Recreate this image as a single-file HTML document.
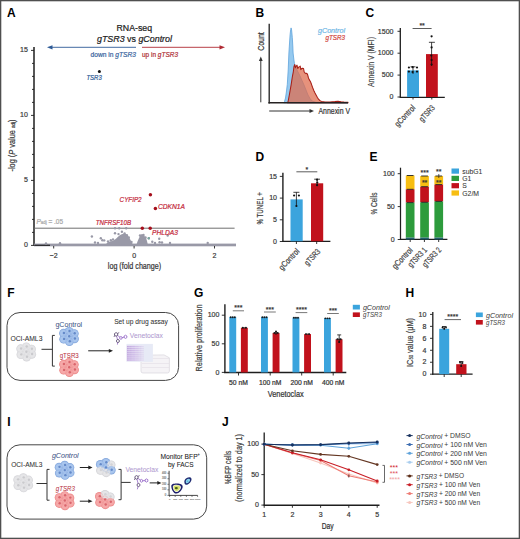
<!DOCTYPE html>
<html><head><meta charset="utf-8"><style>
html,body{margin:0;padding:0;background:#fff;}
svg{display:block;font-family:"Liberation Sans", sans-serif;}
</style></head><body>
<svg width="520" height="539" viewBox="0 0 520 539">
<rect x="0" y="0" width="520" height="539" fill="#fff"/>
<text transform="translate(7.0 12.8)" font-size="12" fill="#000" text-anchor="start" dominant-baseline="central" font-weight="bold">A</text>
<text transform="translate(134.3 28)" font-size="9.2" fill="#222" text-anchor="middle" dominant-baseline="central" textLength="35.5" lengthAdjust="spacingAndGlyphs" stroke="#222" stroke-width="0.22">RNA-seq</text>
<text transform="translate(134.5 39.2)" font-size="9.2" fill="#222" text-anchor="middle" dominant-baseline="central" textLength="75" lengthAdjust="spacingAndGlyphs" stroke="#222" stroke-width="0.22"><tspan font-style="italic">gTSR3</tspan> vs <tspan font-style="italic">gControl</tspan></text>
<path d="M136 47.3 H51" stroke="#2d5a96" stroke-width="0.9"/>
<path d="M47 47.3 L52.5 45.2 L52.5 49.4 Z" fill="#2d5a96"/>
<path d="M142 47.3 H221" stroke="#b02a33" stroke-width="0.9"/>
<path d="M225 47.3 L219.5 45.2 L219.5 49.4 Z" fill="#b02a33"/>
<text transform="translate(90.5 54.3)" font-size="7.2" fill="#3a66a0" text-anchor="start" dominant-baseline="central" textLength="45.5" lengthAdjust="spacingAndGlyphs" stroke="#3a66a0" stroke-width="0.22">down in <tspan font-style="italic">gTSR3</tspan></text>
<text transform="translate(142 54.3)" font-size="7.2" fill="#b03038" text-anchor="start" dominant-baseline="central" textLength="36" lengthAdjust="spacingAndGlyphs" stroke="#b03038" stroke-width="0.22">up in <tspan font-style="italic">gTSR3</tspan></text>
<line x1="34.0" y1="47" x2="34.0" y2="245.5" stroke="#1e1e1e" stroke-width="1.5"/>
<line x1="31.0" y1="245.4" x2="34.0" y2="245.4" stroke="#1e1e1e" stroke-width="0.9"/>
<line x1="32.0" y1="232.4" x2="34.0" y2="232.4" stroke="#1e1e1e" stroke-width="0.9"/>
<line x1="32.0" y1="219.4" x2="34.0" y2="219.4" stroke="#1e1e1e" stroke-width="0.9"/>
<line x1="32.0" y1="206.4" x2="34.0" y2="206.4" stroke="#1e1e1e" stroke-width="0.9"/>
<line x1="32.0" y1="193.4" x2="34.0" y2="193.4" stroke="#1e1e1e" stroke-width="0.9"/>
<line x1="31.0" y1="180.4" x2="34.0" y2="180.4" stroke="#1e1e1e" stroke-width="0.9"/>
<line x1="32.0" y1="167.4" x2="34.0" y2="167.4" stroke="#1e1e1e" stroke-width="0.9"/>
<line x1="32.0" y1="154.4" x2="34.0" y2="154.4" stroke="#1e1e1e" stroke-width="0.9"/>
<line x1="32.0" y1="141.4" x2="34.0" y2="141.4" stroke="#1e1e1e" stroke-width="0.9"/>
<line x1="32.0" y1="128.4" x2="34.0" y2="128.4" stroke="#1e1e1e" stroke-width="0.9"/>
<line x1="31.0" y1="115.4" x2="34.0" y2="115.4" stroke="#1e1e1e" stroke-width="0.9"/>
<line x1="32.0" y1="102.4" x2="34.0" y2="102.4" stroke="#1e1e1e" stroke-width="0.9"/>
<line x1="32.0" y1="89.4" x2="34.0" y2="89.4" stroke="#1e1e1e" stroke-width="0.9"/>
<line x1="32.0" y1="76.4" x2="34.0" y2="76.4" stroke="#1e1e1e" stroke-width="0.9"/>
<line x1="32.0" y1="63.400000000000006" x2="34.0" y2="63.400000000000006" stroke="#1e1e1e" stroke-width="0.9"/>
<line x1="31.0" y1="50.400000000000006" x2="34.0" y2="50.400000000000006" stroke="#1e1e1e" stroke-width="0.9"/>
<text transform="translate(27.8 49.800000000000004) scale(0.88 1)" font-size="8" fill="#3a3a3a" text-anchor="end" dominant-baseline="central" stroke="#3a3a3a" stroke-width="0.22">15</text>
<text transform="translate(27.8 114.80000000000001) scale(0.88 1)" font-size="8" fill="#3a3a3a" text-anchor="end" dominant-baseline="central" stroke="#3a3a3a" stroke-width="0.22">10</text>
<text transform="translate(27.8 179.8) scale(0.88 1)" font-size="8" fill="#3a3a3a" text-anchor="end" dominant-baseline="central" stroke="#3a3a3a" stroke-width="0.22">5</text>
<text transform="translate(27.8 244.8) scale(0.88 1)" font-size="8" fill="#3a3a3a" text-anchor="end" dominant-baseline="central" stroke="#3a3a3a" stroke-width="0.22">0</text>
<text transform="translate(11.5 145.5) rotate(-90)" font-size="9" fill="#3a3a3a" text-anchor="middle" dominant-baseline="central" textLength="52" lengthAdjust="spacingAndGlyphs" stroke="#3a3a3a" stroke-width="0.22">-log (<tspan font-style="italic">P</tspan> value <tspan font-size="5.5" dy="1.5">adj</tspan><tspan dy="-1.5">)</tspan></text>
<line x1="34.2" y1="228.2" x2="234.6" y2="228.2" stroke="#6e6e6e" stroke-width="1"/>
<text transform="translate(36.5 220.6)" font-size="7.5" fill="#a8a8a8" text-anchor="start" dominant-baseline="central" textLength="26.5" lengthAdjust="spacingAndGlyphs" stroke="#a8a8a8" stroke-width="0.22"><tspan font-style="italic">P</tspan><tspan font-size="5" dy="1.8">adj</tspan><tspan dy="-1.8"> = .05</tspan></text>
<rect x="34" y="243.6" width="202" height="2.7" fill="#9999a7"/>
<line x1="34.2" y1="245.3" x2="50" y2="245.3" stroke="#1e1e1e" stroke-width="1.1"/>
<path d="M106,244 L108,242.3 L110,241.5 L112,241 L113.5,240.6 L115,239.6 L116.5,238.2 L118,236.8 L119.5,235.6 L121,234.6 L122.5,233.9 L124.2,233.5 L126,234 L127.3,235.2 L128.5,236.6 L129.6,238.3 L130.8,240.5 L132,243 L133,244.5 Z" fill="#9999a7"/>
<path d="M136.5,244.5 L137.5,241.5 L138.8,238.5 L140,236 L141,234.6 L142,234.1 L143,234.5 L144.2,235.8 L145.3,237.3 L146.2,238.5 L147,241 L147.8,244.5 Z" fill="#9999a7"/>
<circle cx="91.9" cy="236.5" r="1.2" fill="#9999a7"/>
<circle cx="100.8" cy="238.3" r="1.2" fill="#9999a7"/>
<circle cx="102.3" cy="240.2" r="1.2" fill="#9999a7"/>
<circle cx="104.2" cy="240.4" r="1.2" fill="#9999a7"/>
<circle cx="110.8" cy="240.2" r="1.2" fill="#9999a7"/>
<circle cx="115" cy="233.3" r="1.2" fill="#9999a7"/>
<circle cx="118.5" cy="234.1" r="1.2" fill="#9999a7"/>
<circle cx="121.9" cy="231.8" r="1.2" fill="#9999a7"/>
<circle cx="124.6" cy="233.4" r="1.2" fill="#9999a7"/>
<circle cx="126.9" cy="235.2" r="1.2" fill="#9999a7"/>
<circle cx="128.8" cy="237.5" r="1.2" fill="#9999a7"/>
<circle cx="115" cy="228.2" r="1.2" fill="#9999a7"/>
<circle cx="119.2" cy="228.2" r="1.2" fill="#9999a7"/>
<circle cx="126.2" cy="228.2" r="1.2" fill="#9999a7"/>
<circle cx="148.8" cy="238.3" r="1.2" fill="#9999a7"/>
<circle cx="152.3" cy="241.8" r="1.2" fill="#9999a7"/>
<circle cx="159.2" cy="238.7" r="1.2" fill="#9999a7"/>
<circle cx="159.6" cy="242.2" r="1.2" fill="#9999a7"/>
<circle cx="167.7" cy="235.6" r="1.2" fill="#9999a7"/>
<circle cx="207.7" cy="243" r="1.2" fill="#9999a7"/>
<circle cx="95" cy="242.5" r="1.2" fill="#9999a7"/>
<circle cx="98" cy="243" r="1.2" fill="#9999a7"/>
<circle cx="60" cy="243.3" r="1.2" fill="#9999a7"/>
<circle cx="46" cy="243.5" r="1.2" fill="#9999a7"/>
<circle cx="108" cy="241.5" r="1.2" fill="#9999a7"/>
<circle cx="113" cy="239.5" r="1.2" fill="#9999a7"/>
<circle cx="140" cy="235.5" r="1.2" fill="#9999a7"/>
<circle cx="143.5" cy="235" r="1.2" fill="#9999a7"/>
<circle cx="145.5" cy="237.5" r="1.2" fill="#9999a7"/>
<circle cx="131.5" cy="242" r="1.2" fill="#9999a7"/>
<circle cx="155" cy="243" r="1.2" fill="#9999a7"/>
<circle cx="162" cy="242.5" r="1.2" fill="#9999a7"/>
<circle cx="170" cy="243" r="1.2" fill="#9999a7"/>
<circle cx="148.8" cy="238.3" r="1.2" fill="#7aa8a0"/>
<line x1="53.69999999999999" y1="246" x2="53.69999999999999" y2="248.5" stroke="#1e1e1e" stroke-width="0.9"/>
<text transform="translate(53.69999999999999 255.2) scale(0.88 1)" font-size="8" fill="#3a3a3a" text-anchor="middle" dominant-baseline="central" stroke="#3a3a3a" stroke-width="0.22">−2</text>
<line x1="134.1" y1="246" x2="134.1" y2="248.5" stroke="#1e1e1e" stroke-width="0.9"/>
<text transform="translate(134.1 255.2) scale(0.88 1)" font-size="8" fill="#3a3a3a" text-anchor="middle" dominant-baseline="central" stroke="#3a3a3a" stroke-width="0.22">0</text>
<line x1="214.5" y1="246" x2="214.5" y2="248.5" stroke="#1e1e1e" stroke-width="0.9"/>
<text transform="translate(214.5 255.2) scale(0.88 1)" font-size="8" fill="#3a3a3a" text-anchor="middle" dominant-baseline="central" stroke="#3a3a3a" stroke-width="0.22">2</text>
<text transform="translate(134.5 266.4)" font-size="9.2" fill="#333" text-anchor="middle" dominant-baseline="central" textLength="53.4" lengthAdjust="spacingAndGlyphs" stroke="#333" stroke-width="0.22">log (fold change)</text>
<circle cx="99.4" cy="71.6" r="1.5" fill="#111"/>
<text transform="translate(94.1 77.6)" font-size="7.2" fill="#2d5a96" text-anchor="middle" dominant-baseline="central" font-style="italic" textLength="15.4" lengthAdjust="spacingAndGlyphs" stroke="#2d5a96" stroke-width="0.22">TSR3</text>
<circle cx="150.4" cy="194.8" r="1.75" fill="#a50f1c"/>
<circle cx="155.4" cy="208.6" r="1.75" fill="#a50f1c"/>
<circle cx="142.3" cy="228.2" r="1.75" fill="#a50f1c"/>
<circle cx="150.2" cy="228.2" r="1.75" fill="#a50f1c"/>
<text transform="translate(119.6 199.6)" font-size="7.4" fill="#c4283a" text-anchor="start" dominant-baseline="central" font-style="italic" textLength="22" lengthAdjust="spacingAndGlyphs" stroke="#c4283a" stroke-width="0.22">CYFIP2</text>
<text transform="translate(158 206.5)" font-size="7.4" fill="#c4283a" text-anchor="start" dominant-baseline="central" font-style="italic" textLength="27" lengthAdjust="spacingAndGlyphs" stroke="#c4283a" stroke-width="0.22">CDKN1A</text>
<text transform="translate(95.8 222.5)" font-size="7.4" fill="#c4283a" text-anchor="start" dominant-baseline="central" font-style="italic" textLength="35.2" lengthAdjust="spacingAndGlyphs" stroke="#c4283a" stroke-width="0.22">TNFRSF10B</text>
<text transform="translate(152 232)" font-size="7.4" fill="#c4283a" text-anchor="start" dominant-baseline="central" font-style="italic" textLength="26" lengthAdjust="spacingAndGlyphs" stroke="#c4283a" stroke-width="0.22">PHLDA3</text>
<text transform="translate(255.5 12.7)" font-size="12" fill="#000" text-anchor="start" dominant-baseline="central" font-weight="bold">B</text>
<line x1="269.2" y1="23.8" x2="269.2" y2="103.4" stroke="#1e1e1e" stroke-width="1.3"/>
<path d="M283.5,102.8 L284.5,101.5 L285.5,98 L286.5,91 L287.3,84.3 L288.2,70 L288.9,53 L289.6,42 L290.1,34.5 L290.7,29.5 L291.1,27.9 L291.6,30 L292.3,37.6 L292.8,46 L293.1,53 L293.8,59 L294.4,63.3 L296,68 L298,72 L300,76 L302,80.5 L304,85 L306,90 L308,95 L310,98.5 L312,101 L316,102.3 L348,102.8 Z" fill="#95c9ef" stroke="#5ea3dc" stroke-width="0.8"/>
<path d="M287.5,102.8 L288.1,101.5 L289.5,94 L291.2,84.3 L292.3,77 L293.3,71.8 L294,66.5 L294.7,64.6 L295.5,67.8 L296.3,66 L297,65.2 L297.8,68.6 L298.6,67.2 L299.5,66.6 L300.2,66.1 L300.8,69.6 L301.6,68.6 L302.5,68.2 L303.5,68.4 L304.2,72 L305,73 L306,73.6 L306.8,73.3 L307.6,74.6 L308.5,78 L309.2,79.6 L310.4,81.5 L311.5,84.3 L312.6,87.5 L313.8,90.5 L315,93 L316.2,95.2 L317.4,97.5 L318.5,99.1 L320,100.6 L321.5,101.4 L325,101.9 L330,102 L335,101.6 L338,101.2 L341,101.7 L344,102 L348,102.3 L348,102.8 Z" fill="#de6c4e" fill-opacity="0.74" stroke="#a82018" stroke-width="1.05" stroke-linejoin="round"/>
<line x1="268.4" y1="102.8" x2="348" y2="102.8" stroke="#262222" stroke-width="1.5"/>
<line x1="260.8" y1="102.3" x2="260.8" y2="60" stroke="#333" stroke-width="1"/>
<path d="M260.8 56.5 L258.9 61 L262.7 61 Z" fill="#333"/>
<line x1="269.2" y1="111" x2="310" y2="111" stroke="#333" stroke-width="1"/>
<path d="M314 111 L309.5 109.1 L309.5 112.9 Z" fill="#333"/>
<text transform="translate(260.8 41.5) rotate(-90)" font-size="9" fill="#333" text-anchor="middle" dominant-baseline="central" textLength="18.5" lengthAdjust="spacingAndGlyphs" stroke="#333" stroke-width="0.22">Count</text>
<text transform="translate(318.5 111)" font-size="9" fill="#333" text-anchor="start" dominant-baseline="central" textLength="31.5" lengthAdjust="spacingAndGlyphs" stroke="#333" stroke-width="0.22">Annexin V</text>
<text transform="translate(345 30.2)" font-size="7.5" fill="#72b8e6" text-anchor="end" dominant-baseline="central" font-style="italic" textLength="27" lengthAdjust="spacingAndGlyphs" stroke="#72b8e6" stroke-width="0.22">gControl</text>
<text transform="translate(345 37.6)" font-size="7.5" fill="#d0443a" text-anchor="end" dominant-baseline="central" font-style="italic" textLength="19.6" lengthAdjust="spacingAndGlyphs" stroke="#d0443a" stroke-width="0.22">gTSR3</text>
<text transform="translate(365.5 12.6)" font-size="12" fill="#000" text-anchor="start" dominant-baseline="central" font-weight="bold">C</text>
<line x1="400.3" y1="28" x2="400.3" y2="97.6" stroke="#1e1e1e" stroke-width="1.3"/>
<line x1="399.7" y1="97.4" x2="444.8" y2="97.4" stroke="#1e1e1e" stroke-width="1.3"/>
<line x1="397.5" y1="97.0" x2="400.3" y2="97.0" stroke="#1e1e1e" stroke-width="0.9"/>
<text transform="translate(393.5 96.6) scale(0.88 1)" font-size="8" fill="#3a3a3a" text-anchor="end" dominant-baseline="central" stroke="#3a3a3a" stroke-width="0.22">0</text>
<line x1="397.5" y1="75.1" x2="400.3" y2="75.1" stroke="#1e1e1e" stroke-width="0.9"/>
<text transform="translate(393.5 74.69999999999999) scale(0.88 1)" font-size="8" fill="#3a3a3a" text-anchor="end" dominant-baseline="central" stroke="#3a3a3a" stroke-width="0.22">500</text>
<line x1="397.5" y1="53.2" x2="400.3" y2="53.2" stroke="#1e1e1e" stroke-width="0.9"/>
<text transform="translate(393.5 52.800000000000004) scale(0.88 1)" font-size="8" fill="#3a3a3a" text-anchor="end" dominant-baseline="central" stroke="#3a3a3a" stroke-width="0.22">1000</text>
<line x1="397.5" y1="31.299999999999997" x2="400.3" y2="31.299999999999997" stroke="#1e1e1e" stroke-width="0.9"/>
<text transform="translate(393.5 30.9) scale(0.88 1)" font-size="8" fill="#3a3a3a" text-anchor="end" dominant-baseline="central" stroke="#3a3a3a" stroke-width="0.22">1500</text>
<rect x="407.1" y="70.4" width="11.9" height="26.6" fill="#3ba4dd"/>
<rect x="426" y="54.1" width="11.8" height="42.9" fill="#c1121c"/>
<line x1="413" y1="97" x2="413" y2="99.5" stroke="#1e1e1e" stroke-width="0.9"/>
<line x1="431.8" y1="97" x2="431.8" y2="99.5" stroke="#1e1e1e" stroke-width="0.9"/>
<line x1="413" y1="66.8" x2="413" y2="74" stroke="#111" stroke-width="0.8"/>
<line x1="410.5" y1="66.8" x2="415.5" y2="66.8" stroke="#111" stroke-width="0.8"/>
<circle cx="408.9" cy="67.5" r="1.1" fill="#111"/>
<circle cx="412.6" cy="67.2" r="1.1" fill="#111"/>
<circle cx="417" cy="67.5" r="1.1" fill="#111"/>
<circle cx="408.9" cy="71.6" r="1.1" fill="#111"/>
<circle cx="412.6" cy="72" r="1.1" fill="#111"/>
<circle cx="417" cy="71.6" r="1.1" fill="#111"/>
<line x1="431.6" y1="42.3" x2="431.6" y2="66" stroke="#111" stroke-width="0.8"/>
<line x1="428.9" y1="42.3" x2="434.9" y2="42.3" stroke="#111" stroke-width="0.8"/>
<circle cx="431.6" cy="36.3" r="1.1" fill="#111"/>
<circle cx="431.6" cy="47.4" r="1.1" fill="#111"/>
<circle cx="431.6" cy="60" r="1.1" fill="#111"/>
<circle cx="431.6" cy="64.5" r="1.1" fill="#111"/>
<circle cx="431.3" cy="55.5" r="1.1" fill="#111"/>
<line x1="412.6" y1="28.5" x2="431.6" y2="28.5" stroke="#333" stroke-width="0.8"/>
<text transform="translate(422.1 25.5)" font-size="7" fill="#333" text-anchor="middle" dominant-baseline="central" stroke="#333" stroke-width="0.22">**</text>
<text transform="translate(370.6 62) rotate(-90)" font-size="9" fill="#444" text-anchor="middle" dominant-baseline="central" textLength="50" lengthAdjust="spacingAndGlyphs" stroke="#444" stroke-width="0.22">Annexin V (MFI)</text>
<text transform="translate(413.6 106.2) rotate(-47)" font-size="8.3" fill="#444" text-anchor="end" dominant-baseline="central" textLength="26" lengthAdjust="spacingAndGlyphs" stroke="#444" stroke-width="0.22">gControl</text>
<text transform="translate(433.2 106.2) rotate(-47)" font-size="8.3" fill="#444" text-anchor="end" dominant-baseline="central" textLength="19" lengthAdjust="spacingAndGlyphs" stroke="#444" stroke-width="0.22">gTSR3</text>
<text transform="translate(255.5 156.8)" font-size="12" fill="#000" text-anchor="start" dominant-baseline="central" font-weight="bold">D</text>
<line x1="282.9" y1="172.8" x2="282.9" y2="242" stroke="#1e1e1e" stroke-width="1.4"/>
<line x1="282.2" y1="241.35" x2="330.4" y2="241.35" stroke="#1e1e1e" stroke-width="1.2"/>
<line x1="279.8" y1="241.5" x2="282.9" y2="241.5" stroke="#1e1e1e" stroke-width="0.9"/>
<text transform="translate(277 241.1) scale(0.88 1)" font-size="8" fill="#3a3a3a" text-anchor="end" dominant-baseline="central" stroke="#3a3a3a" stroke-width="0.22">0</text>
<line x1="279.8" y1="219.8" x2="282.9" y2="219.8" stroke="#1e1e1e" stroke-width="0.9"/>
<text transform="translate(277 219.4) scale(0.88 1)" font-size="8" fill="#3a3a3a" text-anchor="end" dominant-baseline="central" stroke="#3a3a3a" stroke-width="0.22">5</text>
<line x1="279.8" y1="198.1" x2="282.9" y2="198.1" stroke="#1e1e1e" stroke-width="0.9"/>
<text transform="translate(277 197.7) scale(0.88 1)" font-size="8" fill="#3a3a3a" text-anchor="end" dominant-baseline="central" stroke="#3a3a3a" stroke-width="0.22">10</text>
<line x1="279.8" y1="176.4" x2="282.9" y2="176.4" stroke="#1e1e1e" stroke-width="0.9"/>
<text transform="translate(277 176.0) scale(0.88 1)" font-size="8" fill="#3a3a3a" text-anchor="end" dominant-baseline="central" stroke="#3a3a3a" stroke-width="0.22">15</text>
<rect x="290.5" y="199.4" width="12.2" height="41.9" fill="#3ba4dd"/>
<rect x="311" y="183.3" width="12.2" height="58" fill="#c1121c"/>
<line x1="296.4" y1="241.3" x2="296.4" y2="244" stroke="#1e1e1e" stroke-width="0.9"/>
<line x1="316.7" y1="241.3" x2="316.7" y2="244" stroke="#1e1e1e" stroke-width="0.9"/>
<line x1="296.4" y1="192.3" x2="296.4" y2="206.2" stroke="#111" stroke-width="0.8"/>
<line x1="293.4" y1="192.3" x2="299.4" y2="192.3" stroke="#111" stroke-width="0.8"/>
<circle cx="294.1" cy="195.5" r="1.1" fill="#111"/>
<circle cx="298.9" cy="195.5" r="1.1" fill="#111"/>
<circle cx="296.4" cy="206" r="1.1" fill="#111"/>
<line x1="317.1" y1="179.2" x2="317.1" y2="186" stroke="#111" stroke-width="0.8"/>
<line x1="314.2" y1="179.2" x2="320" y2="179.2" stroke="#111" stroke-width="0.8"/>
<circle cx="317.1" cy="179.7" r="1.1" fill="#111"/>
<circle cx="317.1" cy="185.2" r="1.1" fill="#111"/>
<circle cx="317.3" cy="182.5" r="1.1" fill="#111"/>
<line x1="296.4" y1="171.8" x2="317.3" y2="171.8" stroke="#333" stroke-width="0.8"/>
<text transform="translate(306.8 169)" font-size="7" fill="#333" text-anchor="middle" dominant-baseline="central" stroke="#333" stroke-width="0.22">*</text>
<text transform="translate(259 208.3) rotate(-90)" font-size="9.5" fill="#444" text-anchor="middle" dominant-baseline="central" textLength="32.5" lengthAdjust="spacingAndGlyphs" stroke="#444" stroke-width="0.22">% TUNEL +</text>
<text transform="translate(297.8 249.6) rotate(-47)" font-size="8.3" fill="#444" text-anchor="end" dominant-baseline="central" textLength="26" lengthAdjust="spacingAndGlyphs" stroke="#444" stroke-width="0.22">gControl</text>
<text transform="translate(318.6 250) rotate(-47)" font-size="8.3" fill="#444" text-anchor="end" dominant-baseline="central" textLength="19" lengthAdjust="spacingAndGlyphs" stroke="#444" stroke-width="0.22">gTSR3</text>
<text transform="translate(369.5 157.3)" font-size="12" fill="#000" text-anchor="start" dominant-baseline="central" font-weight="bold">E</text>
<line x1="400.5" y1="167.7" x2="400.5" y2="240" stroke="#1e1e1e" stroke-width="1.25"/>
<line x1="399.9" y1="239.4" x2="447.4" y2="239.4" stroke="#1e1e1e" stroke-width="1.2"/>
<line x1="397.7" y1="239.5" x2="400.5" y2="239.5" stroke="#1e1e1e" stroke-width="0.9"/>
<text transform="translate(394.7 239.1) scale(0.88 1)" font-size="8" fill="#3a3a3a" text-anchor="end" dominant-baseline="central" stroke="#3a3a3a" stroke-width="0.22">0</text>
<line x1="397.7" y1="206.6" x2="400.5" y2="206.6" stroke="#1e1e1e" stroke-width="0.9"/>
<text transform="translate(394.7 206.2) scale(0.88 1)" font-size="8" fill="#3a3a3a" text-anchor="end" dominant-baseline="central" stroke="#3a3a3a" stroke-width="0.22">50</text>
<line x1="397.7" y1="173.7" x2="400.5" y2="173.7" stroke="#1e1e1e" stroke-width="0.9"/>
<text transform="translate(394.7 173.29999999999998) scale(0.88 1)" font-size="8" fill="#3a3a3a" text-anchor="end" dominant-baseline="central" stroke="#3a3a3a" stroke-width="0.22">100</text>
<rect x="405.8" y="175.5" width="8.7" height="13.800000000000011" fill="#f7be12"/>
<rect x="405.8" y="189.3" width="8.7" height="13.299999999999983" fill="#c1121c"/>
<rect x="405.8" y="202.6" width="8.7" height="35.0" fill="#2d9b3c"/>
<rect x="405.8" y="237.6" width="8.7" height="1.9" fill="#1f5f6a"/>
<line x1="406.8" y1="175.5" x2="413.5" y2="175.5" stroke="#222" stroke-width="0.9"/>
<line x1="406.8" y1="189.3" x2="413.5" y2="189.3" stroke="#222" stroke-width="0.9"/>
<line x1="406.8" y1="202.6" x2="413.5" y2="202.6" stroke="#222" stroke-width="0.9"/>
<rect x="420.2" y="176" width="8.7" height="10.699999999999989" fill="#f7be12"/>
<rect x="420.2" y="186.7" width="8.7" height="15.600000000000023" fill="#c1121c"/>
<rect x="420.2" y="202.3" width="8.7" height="35.29999999999998" fill="#2d9b3c"/>
<rect x="420.2" y="237.6" width="8.7" height="1.9" fill="#1f5f6a"/>
<line x1="421.2" y1="176" x2="427.9" y2="176" stroke="#222" stroke-width="0.9"/>
<line x1="421.2" y1="186.7" x2="427.9" y2="186.7" stroke="#222" stroke-width="0.9"/>
<line x1="421.2" y1="202.3" x2="427.9" y2="202.3" stroke="#222" stroke-width="0.9"/>
<rect x="434.4" y="176" width="8.7" height="8.599999999999994" fill="#f7be12"/>
<rect x="434.4" y="184.6" width="8.7" height="16.80000000000001" fill="#c1121c"/>
<rect x="434.4" y="201.4" width="8.7" height="36.19999999999999" fill="#2d9b3c"/>
<rect x="434.4" y="237.6" width="8.7" height="1.9" fill="#1f5f6a"/>
<line x1="435.4" y1="176" x2="442.09999999999997" y2="176" stroke="#222" stroke-width="0.9"/>
<line x1="435.4" y1="184.6" x2="442.09999999999997" y2="184.6" stroke="#222" stroke-width="0.9"/>
<line x1="435.4" y1="201.4" x2="442.09999999999997" y2="201.4" stroke="#222" stroke-width="0.9"/>
<line x1="410.2" y1="239.5" x2="410.2" y2="242" stroke="#1e1e1e" stroke-width="0.9"/>
<line x1="424.4" y1="239.5" x2="424.4" y2="242" stroke="#1e1e1e" stroke-width="0.9"/>
<line x1="438.7" y1="239.5" x2="438.7" y2="242" stroke="#1e1e1e" stroke-width="0.9"/>
<text transform="translate(424.6 172.3)" font-size="7" fill="#333" text-anchor="middle" dominant-baseline="central" stroke="#333" stroke-width="0.22">***</text>
<text transform="translate(438.8 171.3)" font-size="7" fill="#333" text-anchor="middle" dominant-baseline="central" stroke="#333" stroke-width="0.22">**</text>
<text transform="translate(424.6 182)" font-size="7" fill="#333" text-anchor="middle" dominant-baseline="central" stroke="#333" stroke-width="0.22">**</text>
<text transform="translate(438.8 182)" font-size="7" fill="#333" text-anchor="middle" dominant-baseline="central" stroke="#333" stroke-width="0.22">**</text>
<line x1="438.8" y1="174" x2="438.8" y2="178" stroke="#222" stroke-width="0.7"/>
<text transform="translate(374.2 203.5) rotate(-90)" font-size="9" fill="#444" text-anchor="middle" dominant-baseline="central" textLength="22" lengthAdjust="spacingAndGlyphs" stroke="#444" stroke-width="0.22">% Cells</text>
<text transform="translate(411 248.5) rotate(-47)" font-size="8.3" fill="#444" text-anchor="end" dominant-baseline="central" textLength="26" lengthAdjust="spacingAndGlyphs" stroke="#444" stroke-width="0.22">gControl</text>
<text transform="translate(425.2 248.5) rotate(-47)" font-size="8.3" fill="#444" text-anchor="end" dominant-baseline="central" textLength="23.5" lengthAdjust="spacingAndGlyphs" stroke="#444" stroke-width="0.22">gTSR3 1</text>
<text transform="translate(439.5 248.5) rotate(-47)" font-size="8.3" fill="#444" text-anchor="end" dominant-baseline="central" textLength="23.5" lengthAdjust="spacingAndGlyphs" stroke="#444" stroke-width="0.22">gTSR3 2</text>
<rect x="451.5" y="168.5" width="7.5" height="5.2" fill="#3aa4dc"/>
<text transform="translate(462.3 171.1) scale(0.9 1)" font-size="7.6" fill="#333" text-anchor="start" dominant-baseline="central" stroke="#333" stroke-width="0.06">subG1</text>
<rect x="451.5" y="175.8" width="7.5" height="5.2" fill="#2d9b3c"/>
<text transform="translate(462.3 178.4) scale(0.9 1)" font-size="7.6" fill="#333" text-anchor="start" dominant-baseline="central" stroke="#333" stroke-width="0.06">G1</text>
<rect x="451.5" y="183.1" width="7.5" height="5.2" fill="#c1121c"/>
<text transform="translate(462.3 185.7) scale(0.9 1)" font-size="7.6" fill="#333" text-anchor="start" dominant-baseline="central" stroke="#333" stroke-width="0.06">S</text>
<rect x="451.5" y="190.4" width="7.5" height="5.2" fill="#f7be12"/>
<text transform="translate(462.3 193.0) scale(0.9 1)" font-size="7.6" fill="#333" text-anchor="start" dominant-baseline="central" stroke="#333" stroke-width="0.06">G2/M</text>
<text transform="translate(7.3 292.7)" font-size="12" fill="#000" text-anchor="start" dominant-baseline="central" font-weight="bold">F</text>
<rect x="7" y="312.5" width="171.6" height="67.9" rx="13" ry="13" fill="none" stroke="#464646" stroke-width="1"/>
<text transform="translate(26.4 338.4)" font-size="7.5" fill="#333" text-anchor="middle" dominant-baseline="central" textLength="32" lengthAdjust="spacingAndGlyphs" stroke="#333" stroke-width="0.06">OCI-AML3</text>
<circle cx="26.00" cy="352.00" r="4.40" fill="#d6d6da"/>
<circle cx="20.70" cy="348.76" r="4.40" fill="#d6d6da"/>
<circle cx="26.31" cy="346.78" r="4.40" fill="#d6d6da"/>
<circle cx="31.51" cy="349.12" r="4.40" fill="#d6d6da"/>
<circle cx="31.71" cy="354.34" r="4.40" fill="#d6d6da"/>
<circle cx="26.61" cy="357.04" r="4.40" fill="#d6d6da"/>
<circle cx="20.90" cy="354.70" r="4.40" fill="#d6d6da"/>
<circle cx="26.00" cy="352.00" r="3.75" fill="#e6e6e8"/>
<circle cx="20.70" cy="348.76" r="3.75" fill="#e6e6e8"/>
<circle cx="26.31" cy="346.78" r="3.75" fill="#e6e6e8"/>
<circle cx="31.51" cy="349.12" r="3.75" fill="#e6e6e8"/>
<circle cx="31.71" cy="354.34" r="3.75" fill="#e6e6e8"/>
<circle cx="26.61" cy="357.04" r="3.75" fill="#e6e6e8"/>
<circle cx="20.90" cy="354.70" r="3.75" fill="#e6e6e8"/>
<circle cx="26.00" cy="352.00" r="3.75" fill="none" stroke="#d6d6da" stroke-width="0.5" stroke-opacity="0.6"/>
<circle cx="20.70" cy="348.76" r="3.75" fill="none" stroke="#d6d6da" stroke-width="0.5" stroke-opacity="0.6"/>
<circle cx="26.31" cy="346.78" r="3.75" fill="none" stroke="#d6d6da" stroke-width="0.5" stroke-opacity="0.6"/>
<circle cx="31.51" cy="349.12" r="3.75" fill="none" stroke="#d6d6da" stroke-width="0.5" stroke-opacity="0.6"/>
<circle cx="31.71" cy="354.34" r="3.75" fill="none" stroke="#d6d6da" stroke-width="0.5" stroke-opacity="0.6"/>
<circle cx="26.61" cy="357.04" r="3.75" fill="none" stroke="#d6d6da" stroke-width="0.5" stroke-opacity="0.6"/>
<circle cx="20.90" cy="354.70" r="3.75" fill="none" stroke="#d6d6da" stroke-width="0.5" stroke-opacity="0.6"/>
<circle cx="26.40" cy="351.70" r="1.20" fill="#c6c6ca" fill-opacity="0.9"/>
<circle cx="21.10" cy="348.46" r="1.20" fill="#c6c6ca" fill-opacity="0.9"/>
<circle cx="26.71" cy="346.48" r="1.20" fill="#c6c6ca" fill-opacity="0.9"/>
<circle cx="31.91" cy="348.82" r="1.20" fill="#c6c6ca" fill-opacity="0.9"/>
<circle cx="32.11" cy="354.04" r="1.20" fill="#c6c6ca" fill-opacity="0.9"/>
<circle cx="27.01" cy="356.74" r="1.20" fill="#c6c6ca" fill-opacity="0.9"/>
<circle cx="21.30" cy="354.40" r="1.20" fill="#c6c6ca" fill-opacity="0.9"/>
<line x1="41.5" y1="349.3" x2="52.4" y2="349.3" stroke="#333" stroke-width="1"/>
<path d="M54.8 335.4 H52.4 V366.1 H54.8" fill="none" stroke="#333" stroke-width="1"/>
<text transform="translate(68.8 324.2)" font-size="7.5" fill="#46598a" text-anchor="middle" dominant-baseline="central" textLength="26.8" lengthAdjust="spacingAndGlyphs" stroke="#46598a" stroke-width="0.06">gControl</text>
<circle cx="68.80" cy="336.50" r="4.40" fill="#85a8dc"/>
<circle cx="63.50" cy="333.26" r="4.40" fill="#85a8dc"/>
<circle cx="69.11" cy="331.28" r="4.40" fill="#85a8dc"/>
<circle cx="74.31" cy="333.62" r="4.40" fill="#85a8dc"/>
<circle cx="74.51" cy="338.84" r="4.40" fill="#85a8dc"/>
<circle cx="69.41" cy="341.54" r="4.40" fill="#85a8dc"/>
<circle cx="63.70" cy="339.20" r="4.40" fill="#85a8dc"/>
<circle cx="68.80" cy="336.50" r="3.75" fill="#a9c6ee"/>
<circle cx="63.50" cy="333.26" r="3.75" fill="#a9c6ee"/>
<circle cx="69.11" cy="331.28" r="3.75" fill="#a9c6ee"/>
<circle cx="74.31" cy="333.62" r="3.75" fill="#a9c6ee"/>
<circle cx="74.51" cy="338.84" r="3.75" fill="#a9c6ee"/>
<circle cx="69.41" cy="341.54" r="3.75" fill="#a9c6ee"/>
<circle cx="63.70" cy="339.20" r="3.75" fill="#a9c6ee"/>
<circle cx="68.80" cy="336.50" r="3.75" fill="none" stroke="#85a8dc" stroke-width="0.5" stroke-opacity="0.6"/>
<circle cx="63.50" cy="333.26" r="3.75" fill="none" stroke="#85a8dc" stroke-width="0.5" stroke-opacity="0.6"/>
<circle cx="69.11" cy="331.28" r="3.75" fill="none" stroke="#85a8dc" stroke-width="0.5" stroke-opacity="0.6"/>
<circle cx="74.31" cy="333.62" r="3.75" fill="none" stroke="#85a8dc" stroke-width="0.5" stroke-opacity="0.6"/>
<circle cx="74.51" cy="338.84" r="3.75" fill="none" stroke="#85a8dc" stroke-width="0.5" stroke-opacity="0.6"/>
<circle cx="69.41" cy="341.54" r="3.75" fill="none" stroke="#85a8dc" stroke-width="0.5" stroke-opacity="0.6"/>
<circle cx="63.70" cy="339.20" r="3.75" fill="none" stroke="#85a8dc" stroke-width="0.5" stroke-opacity="0.6"/>
<circle cx="69.20" cy="336.20" r="1.20" fill="#5d83c4" fill-opacity="0.9"/>
<circle cx="63.90" cy="332.96" r="1.20" fill="#5d83c4" fill-opacity="0.9"/>
<circle cx="69.51" cy="330.98" r="1.20" fill="#5d83c4" fill-opacity="0.9"/>
<circle cx="74.71" cy="333.32" r="1.20" fill="#5d83c4" fill-opacity="0.9"/>
<circle cx="74.91" cy="338.54" r="1.20" fill="#5d83c4" fill-opacity="0.9"/>
<circle cx="69.81" cy="341.24" r="1.20" fill="#5d83c4" fill-opacity="0.9"/>
<circle cx="64.10" cy="338.90" r="1.20" fill="#5d83c4" fill-opacity="0.9"/>
<text transform="translate(69.2 355)" font-size="7.5" fill="#b8333f" text-anchor="middle" dominant-baseline="central" textLength="19" lengthAdjust="spacingAndGlyphs" stroke="#b8333f" stroke-width="0.06">gTSR3</text>
<circle cx="68.80" cy="367.50" r="4.40" fill="#ec8a8a"/>
<circle cx="63.50" cy="364.26" r="4.40" fill="#ec8a8a"/>
<circle cx="69.11" cy="362.28" r="4.40" fill="#ec8a8a"/>
<circle cx="74.31" cy="364.62" r="4.40" fill="#ec8a8a"/>
<circle cx="74.51" cy="369.84" r="4.40" fill="#ec8a8a"/>
<circle cx="69.41" cy="372.54" r="4.40" fill="#ec8a8a"/>
<circle cx="63.70" cy="370.20" r="4.40" fill="#ec8a8a"/>
<circle cx="68.80" cy="367.50" r="3.75" fill="#f6a9a9"/>
<circle cx="63.50" cy="364.26" r="3.75" fill="#f6a9a9"/>
<circle cx="69.11" cy="362.28" r="3.75" fill="#f6a9a9"/>
<circle cx="74.31" cy="364.62" r="3.75" fill="#f6a9a9"/>
<circle cx="74.51" cy="369.84" r="3.75" fill="#f6a9a9"/>
<circle cx="69.41" cy="372.54" r="3.75" fill="#f6a9a9"/>
<circle cx="63.70" cy="370.20" r="3.75" fill="#f6a9a9"/>
<circle cx="68.80" cy="367.50" r="3.75" fill="none" stroke="#ec8a8a" stroke-width="0.5" stroke-opacity="0.6"/>
<circle cx="63.50" cy="364.26" r="3.75" fill="none" stroke="#ec8a8a" stroke-width="0.5" stroke-opacity="0.6"/>
<circle cx="69.11" cy="362.28" r="3.75" fill="none" stroke="#ec8a8a" stroke-width="0.5" stroke-opacity="0.6"/>
<circle cx="74.31" cy="364.62" r="3.75" fill="none" stroke="#ec8a8a" stroke-width="0.5" stroke-opacity="0.6"/>
<circle cx="74.51" cy="369.84" r="3.75" fill="none" stroke="#ec8a8a" stroke-width="0.5" stroke-opacity="0.6"/>
<circle cx="69.41" cy="372.54" r="3.75" fill="none" stroke="#ec8a8a" stroke-width="0.5" stroke-opacity="0.6"/>
<circle cx="63.70" cy="370.20" r="3.75" fill="none" stroke="#ec8a8a" stroke-width="0.5" stroke-opacity="0.6"/>
<circle cx="69.20" cy="367.20" r="1.20" fill="#d65e66" fill-opacity="0.9"/>
<circle cx="63.90" cy="363.96" r="1.20" fill="#d65e66" fill-opacity="0.9"/>
<circle cx="69.51" cy="361.98" r="1.20" fill="#d65e66" fill-opacity="0.9"/>
<circle cx="74.71" cy="364.32" r="1.20" fill="#d65e66" fill-opacity="0.9"/>
<circle cx="74.91" cy="369.54" r="1.20" fill="#d65e66" fill-opacity="0.9"/>
<circle cx="69.81" cy="372.24" r="1.20" fill="#d65e66" fill-opacity="0.9"/>
<circle cx="64.10" cy="369.90" r="1.20" fill="#d65e66" fill-opacity="0.9"/>
<line x1="88.2" y1="350.8" x2="110" y2="350.8" stroke="#222" stroke-width="1"/>
<path d="M113 350.8 L108.8 348.9 L108.8 352.7 Z" fill="#222"/>
<text transform="translate(141 321.6)" font-size="7.5" fill="#333" text-anchor="middle" dominant-baseline="central" textLength="53.7" lengthAdjust="spacingAndGlyphs" stroke="#333" stroke-width="0.06">Set up drug assay</text>
<text transform="translate(129.8 335.5)" font-size="7.5" fill="#b09ad0" text-anchor="start" dominant-baseline="central" textLength="33" lengthAdjust="spacingAndGlyphs" stroke="#b09ad0" stroke-width="0.06">Venetoclax</text>
<path d="M116.10,334.40 L120.90,337.90 L125.50,336.80 M116.10,334.40 L117.90,341.00 L117.40,344.60" stroke="#9366c6" stroke-width="0.8" fill="none"/>
<path d="M117.66,335.30 L116.10,336.20 L114.54,335.30 L114.54,333.50 L116.10,332.60 L117.66,333.50 Z" fill="#fff" stroke="#5f4f74" stroke-width="0.9"/>
<path d="M122.11,338.60 L120.90,339.30 L119.69,338.60 L119.69,337.20 L120.90,336.50 L122.11,337.20 Z" fill="#fff" stroke="#9366c6" stroke-width="0.85"/>
<path d="M126.89,337.60 L125.50,338.40 L124.11,337.60 L124.11,336.00 L125.50,335.20 L126.89,336.00 Z" fill="#fff" stroke="#9366c6" stroke-width="0.85"/>
<path d="M119.29,341.80 L117.90,342.60 L116.51,341.80 L116.51,340.20 L117.90,339.40 L119.29,340.20 Z" fill="#fff" stroke="#5f4f74" stroke-width="0.9"/>
<path d="M117.60,333.40 l1.6 -0.8 M114.60,335.40 l-0.6 1.6" stroke="#5f4f74" stroke-width="0.8" fill="none"/>
<path d="M141 358.2 L145 355.2 L164 354.9 L169.4 357.8 L169.4 371 Q169.4 373 167.4 373 L143 373 Q141 373 141 371 Z" fill="#f5f3f6" stroke="#d9d5dd" stroke-width="0.7"/>
<path d="M141.5 358.5 H169 M142 363.5 H169 M142 367.5 H169" stroke="#e2dee6" stroke-width="0.6"/>
<defs><linearGradient id="pg" x1="0" y1="0" x2="1" y2="0"><stop offset="0" stop-color="#bea2de"/><stop offset="0.45" stop-color="#cbb6e6"/><stop offset="1" stop-color="#dedaf0"/></linearGradient></defs>
<rect x="126.5" y="343.9" width="26.4" height="18" fill="#e7eaf6"/>
<rect x="126.9" y="345.6" width="17" height="15.4" fill="url(#pg)"/>
<line x1="126.9" y1="345.60" x2="143.9" y2="345.60" stroke="#f4f2fa" stroke-opacity="0.9" stroke-width="0.55"/>
<line x1="126.9" y1="347.53" x2="143.9" y2="347.53" stroke="#f4f2fa" stroke-opacity="0.9" stroke-width="0.55"/>
<line x1="126.9" y1="349.45" x2="143.9" y2="349.45" stroke="#f4f2fa" stroke-opacity="0.9" stroke-width="0.55"/>
<line x1="126.9" y1="351.38" x2="143.9" y2="351.38" stroke="#f4f2fa" stroke-opacity="0.9" stroke-width="0.55"/>
<line x1="126.9" y1="353.30" x2="143.9" y2="353.30" stroke="#f4f2fa" stroke-opacity="0.9" stroke-width="0.55"/>
<line x1="126.9" y1="355.23" x2="143.9" y2="355.23" stroke="#f4f2fa" stroke-opacity="0.9" stroke-width="0.55"/>
<line x1="126.9" y1="357.15" x2="143.9" y2="357.15" stroke="#f4f2fa" stroke-opacity="0.9" stroke-width="0.55"/>
<line x1="126.9" y1="359.08" x2="143.9" y2="359.08" stroke="#f4f2fa" stroke-opacity="0.9" stroke-width="0.55"/>
<line x1="126.9" y1="361.00" x2="143.9" y2="361.00" stroke="#f4f2fa" stroke-opacity="0.9" stroke-width="0.55"/>
<line x1="128.32" y1="345.6" x2="128.32" y2="361" stroke="#f4f2fa" stroke-opacity="0.35" stroke-width="0.4"/>
<line x1="129.74" y1="345.6" x2="129.74" y2="361" stroke="#f4f2fa" stroke-opacity="0.35" stroke-width="0.4"/>
<line x1="131.16" y1="345.6" x2="131.16" y2="361" stroke="#f4f2fa" stroke-opacity="0.35" stroke-width="0.4"/>
<line x1="132.58" y1="345.6" x2="132.58" y2="361" stroke="#f4f2fa" stroke-opacity="0.35" stroke-width="0.4"/>
<line x1="134.00" y1="345.6" x2="134.00" y2="361" stroke="#f4f2fa" stroke-opacity="0.35" stroke-width="0.4"/>
<line x1="135.42" y1="345.6" x2="135.42" y2="361" stroke="#f4f2fa" stroke-opacity="0.35" stroke-width="0.4"/>
<line x1="136.84" y1="345.6" x2="136.84" y2="361" stroke="#f4f2fa" stroke-opacity="0.35" stroke-width="0.4"/>
<line x1="138.26" y1="345.6" x2="138.26" y2="361" stroke="#f4f2fa" stroke-opacity="0.35" stroke-width="0.4"/>
<line x1="139.68" y1="345.6" x2="139.68" y2="361" stroke="#f4f2fa" stroke-opacity="0.35" stroke-width="0.4"/>
<line x1="141.10" y1="345.6" x2="141.10" y2="361" stroke="#f4f2fa" stroke-opacity="0.35" stroke-width="0.4"/>
<line x1="142.52" y1="345.6" x2="142.52" y2="361" stroke="#f4f2fa" stroke-opacity="0.35" stroke-width="0.4"/>
<text transform="translate(194.1 293.0)" font-size="12" fill="#000" text-anchor="start" dominant-baseline="central" font-weight="bold">G</text>
<line x1="224.9" y1="304.2" x2="224.9" y2="373" stroke="#1e1e1e" stroke-width="1.4"/>
<line x1="224" y1="372.5" x2="346.3" y2="372.5" stroke="#1e1e1e" stroke-width="1.3"/>
<line x1="221.8" y1="372.4" x2="224.9" y2="372.4" stroke="#1e1e1e" stroke-width="0.9"/>
<text transform="translate(219.4 372.0) scale(0.88 1)" font-size="8" fill="#3a3a3a" text-anchor="end" dominant-baseline="central" stroke="#3a3a3a" stroke-width="0.22">0</text>
<line x1="221.8" y1="343.79999999999995" x2="224.9" y2="343.79999999999995" stroke="#1e1e1e" stroke-width="0.9"/>
<text transform="translate(219.4 343.4) scale(0.88 1)" font-size="8" fill="#3a3a3a" text-anchor="end" dominant-baseline="central" stroke="#3a3a3a" stroke-width="0.22">50</text>
<line x1="221.8" y1="315.2" x2="224.9" y2="315.2" stroke="#1e1e1e" stroke-width="0.9"/>
<text transform="translate(219.4 314.8) scale(0.88 1)" font-size="8" fill="#3a3a3a" text-anchor="end" dominant-baseline="central" stroke="#3a3a3a" stroke-width="0.22">100</text>
<rect x="229.3" y="316.91599999999994" width="6.9" height="55.48400000000001" fill="#3ba4dd"/>
<rect x="240.9" y="327.784" width="6.9" height="44.61600000000001" fill="#c1121c"/>
<line x1="238.5" y1="372.5" x2="238.5" y2="375.5" stroke="#1e1e1e" stroke-width="0.9"/>
<text transform="translate(238.5 382.3)" font-size="7" fill="#333" text-anchor="middle" dominant-baseline="central" textLength="18.8" lengthAdjust="spacingAndGlyphs" stroke="#333" stroke-width="0.22">50 nM</text>
<circle cx="230.70000000000002" cy="317.21599999999995" r="0.95" fill="#1a1a1a"/>
<circle cx="232.75" cy="317.21599999999995" r="0.95" fill="#1a1a1a"/>
<circle cx="234.8" cy="317.21599999999995" r="0.95" fill="#1a1a1a"/>
<circle cx="242.8" cy="327.784" r="0.95" fill="#1a1a1a"/>
<circle cx="245.9" cy="327.784" r="0.95" fill="#1a1a1a"/>
<line x1="241.9" y1="327.784" x2="246.8" y2="327.784" stroke="#1a1a1a" stroke-width="0.8"/>
<rect x="261" y="316.91599999999994" width="6.9" height="55.48400000000001" fill="#3ba4dd"/>
<rect x="272.6" y="332.93199999999996" width="6.9" height="39.468" fill="#c1121c"/>
<line x1="270.2" y1="372.5" x2="270.2" y2="375.5" stroke="#1e1e1e" stroke-width="0.9"/>
<text transform="translate(270.2 382.3)" font-size="7" fill="#333" text-anchor="middle" dominant-baseline="central" textLength="22.5" lengthAdjust="spacingAndGlyphs" stroke="#333" stroke-width="0.22">100 nM</text>
<circle cx="262.4" cy="317.21599999999995" r="0.95" fill="#1a1a1a"/>
<circle cx="264.45" cy="317.21599999999995" r="0.95" fill="#1a1a1a"/>
<circle cx="266.5" cy="317.21599999999995" r="0.95" fill="#1a1a1a"/>
<circle cx="274.5" cy="332.93199999999996" r="0.95" fill="#1a1a1a"/>
<circle cx="277.6" cy="332.93199999999996" r="0.95" fill="#1a1a1a"/>
<line x1="273.6" y1="332.93199999999996" x2="278.5" y2="332.93199999999996" stroke="#1a1a1a" stroke-width="0.8"/>
<rect x="292.5" y="317.48799999999994" width="6.9" height="54.912000000000006" fill="#3ba4dd"/>
<rect x="304.1" y="334.07599999999996" width="6.9" height="38.324000000000005" fill="#c1121c"/>
<line x1="301.7" y1="372.5" x2="301.7" y2="375.5" stroke="#1e1e1e" stroke-width="0.9"/>
<text transform="translate(301.7 382.3)" font-size="7" fill="#333" text-anchor="middle" dominant-baseline="central" textLength="22.5" lengthAdjust="spacingAndGlyphs" stroke="#333" stroke-width="0.22">200 nM</text>
<circle cx="293.9" cy="317.78799999999995" r="0.95" fill="#1a1a1a"/>
<circle cx="295.95" cy="317.78799999999995" r="0.95" fill="#1a1a1a"/>
<circle cx="298.0" cy="317.78799999999995" r="0.95" fill="#1a1a1a"/>
<circle cx="306.0" cy="334.07599999999996" r="0.95" fill="#1a1a1a"/>
<circle cx="309.1" cy="334.07599999999996" r="0.95" fill="#1a1a1a"/>
<line x1="305.1" y1="334.07599999999996" x2="310.0" y2="334.07599999999996" stroke="#1a1a1a" stroke-width="0.8"/>
<rect x="324" y="318.05999999999995" width="6.9" height="54.34" fill="#3ba4dd"/>
<rect x="335.6" y="339.224" width="6.9" height="33.176" fill="#c1121c"/>
<line x1="333.2" y1="372.5" x2="333.2" y2="375.5" stroke="#1e1e1e" stroke-width="0.9"/>
<text transform="translate(333.2 382.3)" font-size="7" fill="#333" text-anchor="middle" dominant-baseline="central" textLength="22.5" lengthAdjust="spacingAndGlyphs" stroke="#333" stroke-width="0.22">400 nM</text>
<circle cx="325.4" cy="318.35999999999996" r="0.95" fill="#1a1a1a"/>
<circle cx="327.45" cy="318.35999999999996" r="0.95" fill="#1a1a1a"/>
<circle cx="329.5" cy="318.35999999999996" r="0.95" fill="#1a1a1a"/>
<circle cx="337.5" cy="339.224" r="0.95" fill="#1a1a1a"/>
<circle cx="340.6" cy="339.224" r="0.95" fill="#1a1a1a"/>
<line x1="336.6" y1="339.224" x2="341.5" y2="339.224" stroke="#1a1a1a" stroke-width="0.8"/>
<line x1="276" y1="331" x2="276" y2="335" stroke="#111" stroke-width="0.8"/>
<circle cx="276" cy="331.5" r="0.9" fill="#111"/>
<line x1="339.2" y1="334.9" x2="339.2" y2="343" stroke="#111" stroke-width="0.8"/>
<line x1="337.2" y1="334.9" x2="341.2" y2="334.9" stroke="#111" stroke-width="0.8"/>
<circle cx="339.2" cy="342" r="1" fill="#111"/>
<line x1="232.8" y1="310.8" x2="244" y2="310.8" stroke="#555" stroke-width="0.8"/>
<text transform="translate(238.4 307.8)" font-size="7" fill="#333" text-anchor="middle" dominant-baseline="central" stroke="#333" stroke-width="0.22">***</text>
<line x1="264" y1="312" x2="275.8" y2="312" stroke="#555" stroke-width="0.8"/>
<text transform="translate(269.9 309)" font-size="7" fill="#333" text-anchor="middle" dominant-baseline="central" stroke="#333" stroke-width="0.22">***</text>
<line x1="295.6" y1="312.6" x2="307.3" y2="312.6" stroke="#555" stroke-width="0.8"/>
<text transform="translate(301.45000000000005 309.6)" font-size="7" fill="#333" text-anchor="middle" dominant-baseline="central" stroke="#333" stroke-width="0.22">****</text>
<line x1="327.2" y1="313.5" x2="338.8" y2="313.5" stroke="#555" stroke-width="0.8"/>
<text transform="translate(333.0 310.5)" font-size="7" fill="#333" text-anchor="middle" dominant-baseline="central" stroke="#333" stroke-width="0.22">***</text>
<text transform="translate(199 338) rotate(-90)" font-size="9" fill="#444" text-anchor="middle" dominant-baseline="central" textLength="67" lengthAdjust="spacingAndGlyphs" stroke="#444" stroke-width="0.22">Relative proliferation</text>
<text transform="translate(285.7 394.2)" font-size="9" fill="#333" text-anchor="middle" dominant-baseline="central" textLength="36" lengthAdjust="spacingAndGlyphs" stroke="#333" stroke-width="0.22">Venetoclax</text>
<rect x="352.8" y="304.8" width="7.1" height="4.7" fill="#3ba4dd"/>
<rect x="352.8" y="312.4" width="7.1" height="4.6" fill="#c1121c"/>
<text transform="translate(362.9 307.2)" font-size="7.5" fill="#444" text-anchor="start" dominant-baseline="central" font-style="italic" textLength="27" lengthAdjust="spacingAndGlyphs" stroke="#444" stroke-width="0.03">gControl</text>
<text transform="translate(362.9 314.9)" font-size="7.5" fill="#444" text-anchor="start" dominant-baseline="central" font-style="italic" textLength="19" lengthAdjust="spacingAndGlyphs" stroke="#444" stroke-width="0.03">gTSR3</text>
<text transform="translate(405.5 293.0)" font-size="12" fill="#000" text-anchor="start" dominant-baseline="central" font-weight="bold">H</text>
<line x1="432.8" y1="312" x2="432.8" y2="374.8" stroke="#1e1e1e" stroke-width="1.3"/>
<line x1="432.2" y1="374.2" x2="472.6" y2="374.2" stroke="#1e1e1e" stroke-width="1.3"/>
<line x1="430" y1="374.2" x2="432.8" y2="374.2" stroke="#1e1e1e" stroke-width="0.9"/>
<text transform="translate(426.3 373.8) scale(0.88 1)" font-size="8" fill="#3a3a3a" text-anchor="end" dominant-baseline="central" stroke="#3a3a3a" stroke-width="0.22">0</text>
<line x1="430" y1="362.24" x2="432.8" y2="362.24" stroke="#1e1e1e" stroke-width="0.9"/>
<text transform="translate(426.3 361.84000000000003) scale(0.88 1)" font-size="8" fill="#3a3a3a" text-anchor="end" dominant-baseline="central" stroke="#3a3a3a" stroke-width="0.22">2</text>
<line x1="430" y1="350.28" x2="432.8" y2="350.28" stroke="#1e1e1e" stroke-width="0.9"/>
<text transform="translate(426.3 349.88) scale(0.88 1)" font-size="8" fill="#3a3a3a" text-anchor="end" dominant-baseline="central" stroke="#3a3a3a" stroke-width="0.22">4</text>
<line x1="430" y1="338.32" x2="432.8" y2="338.32" stroke="#1e1e1e" stroke-width="0.9"/>
<text transform="translate(426.3 337.92) scale(0.88 1)" font-size="8" fill="#3a3a3a" text-anchor="end" dominant-baseline="central" stroke="#3a3a3a" stroke-width="0.22">6</text>
<line x1="430" y1="326.36" x2="432.8" y2="326.36" stroke="#1e1e1e" stroke-width="0.9"/>
<text transform="translate(426.3 325.96000000000004) scale(0.88 1)" font-size="8" fill="#3a3a3a" text-anchor="end" dominant-baseline="central" stroke="#3a3a3a" stroke-width="0.22">8</text>
<line x1="430" y1="314.4" x2="432.8" y2="314.4" stroke="#1e1e1e" stroke-width="0.9"/>
<text transform="translate(426.3 314.0) scale(0.88 1)" font-size="8" fill="#3a3a3a" text-anchor="end" dominant-baseline="central" stroke="#3a3a3a" stroke-width="0.22">10</text>
<rect x="439.2" y="328.8" width="10" height="45.4" fill="#3ba4dd"/>
<rect x="456.2" y="364.2" width="10.3" height="10" fill="#c1121c"/>
<line x1="444.2" y1="374.2" x2="444.2" y2="377" stroke="#1e1e1e" stroke-width="0.9"/>
<line x1="461.2" y1="374.2" x2="461.2" y2="377" stroke="#1e1e1e" stroke-width="0.9"/>
<line x1="444.2" y1="326.5" x2="444.2" y2="330" stroke="#111" stroke-width="0.8"/>
<line x1="442" y1="326.5" x2="446.4" y2="326.5" stroke="#111" stroke-width="0.8"/>
<circle cx="442.5" cy="327.5" r="0.9" fill="#111"/>
<circle cx="444.2" cy="328.5" r="0.9" fill="#111"/>
<circle cx="446" cy="327.5" r="0.9" fill="#111"/>
<line x1="461.2" y1="361.5" x2="461.2" y2="367" stroke="#111" stroke-width="0.8"/>
<line x1="459" y1="361.5" x2="463.4" y2="361.5" stroke="#111" stroke-width="0.8"/>
<circle cx="460" cy="362.5" r="0.9" fill="#111"/>
<circle cx="462.5" cy="363" r="0.9" fill="#111"/>
<circle cx="461.2" cy="366" r="0.9" fill="#111"/>
<line x1="444.6" y1="319.6" x2="461" y2="319.6" stroke="#555" stroke-width="0.9"/>
<text transform="translate(452.8 316.8)" font-size="7" fill="#333" text-anchor="middle" dominant-baseline="central" stroke="#333" stroke-width="0.22">****</text>
<text transform="translate(409.6 342.5) rotate(-90)" font-size="9" fill="#444" text-anchor="middle" dominant-baseline="central" textLength="49" lengthAdjust="spacingAndGlyphs" stroke="#444" stroke-width="0.22">IC<tspan font-size="5" dy="1.6">50</tspan><tspan dy="-1.6"> value (μM)</tspan></text>
<rect x="475.9" y="312.5" width="6.9" height="4.6" fill="#3ba4dd"/>
<rect x="475.9" y="320" width="6.9" height="4.6" fill="#c1121c"/>
<text transform="translate(486 315.1)" font-size="7.5" fill="#444" text-anchor="start" dominant-baseline="central" font-style="italic" textLength="27" lengthAdjust="spacingAndGlyphs" stroke="#444" stroke-width="0.03">gControl</text>
<text transform="translate(486 322.3)" font-size="7.5" fill="#444" text-anchor="start" dominant-baseline="central" font-style="italic" textLength="19" lengthAdjust="spacingAndGlyphs" stroke="#444" stroke-width="0.03">gTSR3</text>
<text transform="translate(7.3 421.7)" font-size="12" fill="#000" text-anchor="start" dominant-baseline="central" font-weight="bold">I</text>
<rect x="7" y="444.8" width="199.7" height="74.3" rx="13" ry="13" fill="none" stroke="#464646" stroke-width="1"/>
<text transform="translate(26.8 464.7)" font-size="7.5" fill="#333" text-anchor="middle" dominant-baseline="central" textLength="31.2" lengthAdjust="spacingAndGlyphs" stroke="#333" stroke-width="0.06">OCI-AML3</text>
<circle cx="23.00" cy="482.90" r="4.40" fill="#d6d6da"/>
<circle cx="17.70" cy="479.66" r="4.40" fill="#d6d6da"/>
<circle cx="23.31" cy="477.68" r="4.40" fill="#d6d6da"/>
<circle cx="28.51" cy="480.02" r="4.40" fill="#d6d6da"/>
<circle cx="28.71" cy="485.24" r="4.40" fill="#d6d6da"/>
<circle cx="23.61" cy="487.94" r="4.40" fill="#d6d6da"/>
<circle cx="17.90" cy="485.60" r="4.40" fill="#d6d6da"/>
<circle cx="23.00" cy="482.90" r="3.75" fill="#e6e6e8"/>
<circle cx="17.70" cy="479.66" r="3.75" fill="#e6e6e8"/>
<circle cx="23.31" cy="477.68" r="3.75" fill="#e6e6e8"/>
<circle cx="28.51" cy="480.02" r="3.75" fill="#e6e6e8"/>
<circle cx="28.71" cy="485.24" r="3.75" fill="#e6e6e8"/>
<circle cx="23.61" cy="487.94" r="3.75" fill="#e6e6e8"/>
<circle cx="17.90" cy="485.60" r="3.75" fill="#e6e6e8"/>
<circle cx="23.00" cy="482.90" r="3.75" fill="none" stroke="#d6d6da" stroke-width="0.5" stroke-opacity="0.6"/>
<circle cx="17.70" cy="479.66" r="3.75" fill="none" stroke="#d6d6da" stroke-width="0.5" stroke-opacity="0.6"/>
<circle cx="23.31" cy="477.68" r="3.75" fill="none" stroke="#d6d6da" stroke-width="0.5" stroke-opacity="0.6"/>
<circle cx="28.51" cy="480.02" r="3.75" fill="none" stroke="#d6d6da" stroke-width="0.5" stroke-opacity="0.6"/>
<circle cx="28.71" cy="485.24" r="3.75" fill="none" stroke="#d6d6da" stroke-width="0.5" stroke-opacity="0.6"/>
<circle cx="23.61" cy="487.94" r="3.75" fill="none" stroke="#d6d6da" stroke-width="0.5" stroke-opacity="0.6"/>
<circle cx="17.90" cy="485.60" r="3.75" fill="none" stroke="#d6d6da" stroke-width="0.5" stroke-opacity="0.6"/>
<circle cx="23.40" cy="482.60" r="1.20" fill="#c6c6ca" fill-opacity="0.9"/>
<circle cx="18.10" cy="479.36" r="1.20" fill="#c6c6ca" fill-opacity="0.9"/>
<circle cx="23.71" cy="477.38" r="1.20" fill="#c6c6ca" fill-opacity="0.9"/>
<circle cx="28.91" cy="479.72" r="1.20" fill="#c6c6ca" fill-opacity="0.9"/>
<circle cx="29.11" cy="484.94" r="1.20" fill="#c6c6ca" fill-opacity="0.9"/>
<circle cx="24.01" cy="487.64" r="1.20" fill="#c6c6ca" fill-opacity="0.9"/>
<circle cx="18.30" cy="485.30" r="1.20" fill="#c6c6ca" fill-opacity="0.9"/>
<line x1="36.5" y1="483.5" x2="47" y2="483.5" stroke="#333" stroke-width="1"/>
<path d="M49.5 469.4 H47 V500.2 H49.5" fill="none" stroke="#333" stroke-width="1"/>
<text transform="translate(65.3 455.2)" font-size="7.5" fill="#46598a" text-anchor="middle" dominant-baseline="central" font-style="italic" textLength="26.8" lengthAdjust="spacingAndGlyphs" stroke="#46598a" stroke-width="0.06">gControl</text>
<circle cx="64.40" cy="470.40" r="4.40" fill="#85a8dc"/>
<circle cx="59.10" cy="467.16" r="4.40" fill="#85a8dc"/>
<circle cx="64.71" cy="465.18" r="4.40" fill="#85a8dc"/>
<circle cx="69.91" cy="467.52" r="4.40" fill="#85a8dc"/>
<circle cx="70.11" cy="472.74" r="4.40" fill="#85a8dc"/>
<circle cx="65.01" cy="475.44" r="4.40" fill="#85a8dc"/>
<circle cx="59.30" cy="473.10" r="4.40" fill="#85a8dc"/>
<circle cx="64.40" cy="470.40" r="3.75" fill="#a9c6ee"/>
<circle cx="59.10" cy="467.16" r="3.75" fill="#a9c6ee"/>
<circle cx="64.71" cy="465.18" r="3.75" fill="#a9c6ee"/>
<circle cx="69.91" cy="467.52" r="3.75" fill="#a9c6ee"/>
<circle cx="70.11" cy="472.74" r="3.75" fill="#a9c6ee"/>
<circle cx="65.01" cy="475.44" r="3.75" fill="#a9c6ee"/>
<circle cx="59.30" cy="473.10" r="3.75" fill="#a9c6ee"/>
<circle cx="64.40" cy="470.40" r="3.75" fill="none" stroke="#85a8dc" stroke-width="0.5" stroke-opacity="0.6"/>
<circle cx="59.10" cy="467.16" r="3.75" fill="none" stroke="#85a8dc" stroke-width="0.5" stroke-opacity="0.6"/>
<circle cx="64.71" cy="465.18" r="3.75" fill="none" stroke="#85a8dc" stroke-width="0.5" stroke-opacity="0.6"/>
<circle cx="69.91" cy="467.52" r="3.75" fill="none" stroke="#85a8dc" stroke-width="0.5" stroke-opacity="0.6"/>
<circle cx="70.11" cy="472.74" r="3.75" fill="none" stroke="#85a8dc" stroke-width="0.5" stroke-opacity="0.6"/>
<circle cx="65.01" cy="475.44" r="3.75" fill="none" stroke="#85a8dc" stroke-width="0.5" stroke-opacity="0.6"/>
<circle cx="59.30" cy="473.10" r="3.75" fill="none" stroke="#85a8dc" stroke-width="0.5" stroke-opacity="0.6"/>
<circle cx="64.80" cy="470.10" r="1.20" fill="#5d83c4" fill-opacity="0.9"/>
<circle cx="59.50" cy="466.86" r="1.20" fill="#5d83c4" fill-opacity="0.9"/>
<circle cx="65.11" cy="464.88" r="1.20" fill="#5d83c4" fill-opacity="0.9"/>
<circle cx="70.31" cy="467.22" r="1.20" fill="#5d83c4" fill-opacity="0.9"/>
<circle cx="70.51" cy="472.44" r="1.20" fill="#5d83c4" fill-opacity="0.9"/>
<circle cx="65.41" cy="475.14" r="1.20" fill="#5d83c4" fill-opacity="0.9"/>
<circle cx="59.70" cy="472.80" r="1.20" fill="#5d83c4" fill-opacity="0.9"/>
<text transform="translate(65.4 488)" font-size="7.5" fill="#b8333f" text-anchor="middle" dominant-baseline="central" font-style="italic" textLength="19.2" lengthAdjust="spacingAndGlyphs" stroke="#b8333f" stroke-width="0.06">gTSR3</text>
<circle cx="64.40" cy="500.80" r="4.40" fill="#ec8a8a"/>
<circle cx="59.10" cy="497.56" r="4.40" fill="#ec8a8a"/>
<circle cx="64.71" cy="495.58" r="4.40" fill="#ec8a8a"/>
<circle cx="69.91" cy="497.92" r="4.40" fill="#ec8a8a"/>
<circle cx="70.11" cy="503.14" r="4.40" fill="#ec8a8a"/>
<circle cx="65.01" cy="505.84" r="4.40" fill="#ec8a8a"/>
<circle cx="59.30" cy="503.50" r="4.40" fill="#ec8a8a"/>
<circle cx="64.40" cy="500.80" r="3.75" fill="#f6a9a9"/>
<circle cx="59.10" cy="497.56" r="3.75" fill="#f6a9a9"/>
<circle cx="64.71" cy="495.58" r="3.75" fill="#f6a9a9"/>
<circle cx="69.91" cy="497.92" r="3.75" fill="#f6a9a9"/>
<circle cx="70.11" cy="503.14" r="3.75" fill="#f6a9a9"/>
<circle cx="65.01" cy="505.84" r="3.75" fill="#f6a9a9"/>
<circle cx="59.30" cy="503.50" r="3.75" fill="#f6a9a9"/>
<circle cx="64.40" cy="500.80" r="3.75" fill="none" stroke="#ec8a8a" stroke-width="0.5" stroke-opacity="0.6"/>
<circle cx="59.10" cy="497.56" r="3.75" fill="none" stroke="#ec8a8a" stroke-width="0.5" stroke-opacity="0.6"/>
<circle cx="64.71" cy="495.58" r="3.75" fill="none" stroke="#ec8a8a" stroke-width="0.5" stroke-opacity="0.6"/>
<circle cx="69.91" cy="497.92" r="3.75" fill="none" stroke="#ec8a8a" stroke-width="0.5" stroke-opacity="0.6"/>
<circle cx="70.11" cy="503.14" r="3.75" fill="none" stroke="#ec8a8a" stroke-width="0.5" stroke-opacity="0.6"/>
<circle cx="65.01" cy="505.84" r="3.75" fill="none" stroke="#ec8a8a" stroke-width="0.5" stroke-opacity="0.6"/>
<circle cx="59.30" cy="503.50" r="3.75" fill="none" stroke="#ec8a8a" stroke-width="0.5" stroke-opacity="0.6"/>
<circle cx="64.80" cy="500.50" r="1.20" fill="#d65e66" fill-opacity="0.9"/>
<circle cx="59.50" cy="497.26" r="1.20" fill="#d65e66" fill-opacity="0.9"/>
<circle cx="65.11" cy="495.28" r="1.20" fill="#d65e66" fill-opacity="0.9"/>
<circle cx="70.31" cy="497.62" r="1.20" fill="#d65e66" fill-opacity="0.9"/>
<circle cx="70.51" cy="502.84" r="1.20" fill="#d65e66" fill-opacity="0.9"/>
<circle cx="65.41" cy="505.54" r="1.20" fill="#d65e66" fill-opacity="0.9"/>
<circle cx="59.70" cy="503.20" r="1.20" fill="#d65e66" fill-opacity="0.9"/>
<line x1="79.8" y1="467.5" x2="89.5" y2="467.5" stroke="#222" stroke-width="1"/>
<path d="M92.5 467.5 L88.3 465.6 L88.3 469.4 Z" fill="#222"/>
<line x1="79.8" y1="501.2" x2="89.5" y2="501.2" stroke="#222" stroke-width="1"/>
<path d="M92.5 501.2 L88.3 499.3 L88.3 503.09999999999997 Z" fill="#222"/>
<circle cx="105.60" cy="467.70" r="4.40" fill="#85a8dc"/>
<circle cx="100.30" cy="464.46" r="4.40" fill="#85a8dc"/>
<circle cx="105.91" cy="462.48" r="4.40" fill="#85a8dc"/>
<circle cx="111.11" cy="464.82" r="4.40" fill="#d2d2d6"/>
<circle cx="111.31" cy="470.04" r="4.40" fill="#85a8dc"/>
<circle cx="106.21" cy="472.74" r="4.40" fill="#d2d2d6"/>
<circle cx="100.50" cy="470.40" r="4.40" fill="#d2d2d6"/>
<circle cx="105.60" cy="467.70" r="3.75" fill="#a9c6ee"/>
<circle cx="100.30" cy="464.46" r="3.75" fill="#a9c6ee"/>
<circle cx="105.91" cy="462.48" r="3.75" fill="#a9c6ee"/>
<circle cx="111.11" cy="464.82" r="3.75" fill="#e6e6e8"/>
<circle cx="111.31" cy="470.04" r="3.75" fill="#a9c6ee"/>
<circle cx="106.21" cy="472.74" r="3.75" fill="#e6e6e8"/>
<circle cx="100.50" cy="470.40" r="3.75" fill="#e6e6e8"/>
<circle cx="105.60" cy="467.70" r="3.75" fill="none" stroke="#85a8dc" stroke-width="0.5" stroke-opacity="0.6"/>
<circle cx="100.30" cy="464.46" r="3.75" fill="none" stroke="#85a8dc" stroke-width="0.5" stroke-opacity="0.6"/>
<circle cx="105.91" cy="462.48" r="3.75" fill="none" stroke="#85a8dc" stroke-width="0.5" stroke-opacity="0.6"/>
<circle cx="111.11" cy="464.82" r="3.75" fill="none" stroke="#d2d2d6" stroke-width="0.5" stroke-opacity="0.6"/>
<circle cx="111.31" cy="470.04" r="3.75" fill="none" stroke="#85a8dc" stroke-width="0.5" stroke-opacity="0.6"/>
<circle cx="106.21" cy="472.74" r="3.75" fill="none" stroke="#d2d2d6" stroke-width="0.5" stroke-opacity="0.6"/>
<circle cx="100.50" cy="470.40" r="3.75" fill="none" stroke="#d2d2d6" stroke-width="0.5" stroke-opacity="0.6"/>
<circle cx="106.00" cy="467.40" r="1.20" fill="#5d83c4" fill-opacity="0.9"/>
<circle cx="100.70" cy="464.16" r="1.20" fill="#5d83c4" fill-opacity="0.9"/>
<circle cx="106.31" cy="462.18" r="1.20" fill="#5d83c4" fill-opacity="0.9"/>
<circle cx="111.51" cy="464.52" r="1.20" fill="#cfcfd3" fill-opacity="0.9"/>
<circle cx="111.71" cy="469.74" r="1.20" fill="#5d83c4" fill-opacity="0.9"/>
<circle cx="106.61" cy="472.44" r="1.20" fill="#cfcfd3" fill-opacity="0.9"/>
<circle cx="100.90" cy="470.10" r="1.20" fill="#cfcfd3" fill-opacity="0.9"/>
<circle cx="104.70" cy="499.70" r="4.40" fill="#ec8a8a"/>
<circle cx="99.40" cy="496.46" r="4.40" fill="#ec8a8a"/>
<circle cx="105.01" cy="494.48" r="4.40" fill="#d2d2d6"/>
<circle cx="110.21" cy="496.82" r="4.40" fill="#d2d2d6"/>
<circle cx="110.41" cy="502.04" r="4.40" fill="#ec8a8a"/>
<circle cx="105.31" cy="504.74" r="4.40" fill="#ec8a8a"/>
<circle cx="99.60" cy="502.40" r="4.40" fill="#ec8a8a"/>
<circle cx="104.70" cy="499.70" r="3.75" fill="#f6a9a9"/>
<circle cx="99.40" cy="496.46" r="3.75" fill="#f6a9a9"/>
<circle cx="105.01" cy="494.48" r="3.75" fill="#e6e6e8"/>
<circle cx="110.21" cy="496.82" r="3.75" fill="#e6e6e8"/>
<circle cx="110.41" cy="502.04" r="3.75" fill="#f6a9a9"/>
<circle cx="105.31" cy="504.74" r="3.75" fill="#f6a9a9"/>
<circle cx="99.60" cy="502.40" r="3.75" fill="#f6a9a9"/>
<circle cx="104.70" cy="499.70" r="3.75" fill="none" stroke="#ec8a8a" stroke-width="0.5" stroke-opacity="0.6"/>
<circle cx="99.40" cy="496.46" r="3.75" fill="none" stroke="#ec8a8a" stroke-width="0.5" stroke-opacity="0.6"/>
<circle cx="105.01" cy="494.48" r="3.75" fill="none" stroke="#d2d2d6" stroke-width="0.5" stroke-opacity="0.6"/>
<circle cx="110.21" cy="496.82" r="3.75" fill="none" stroke="#d2d2d6" stroke-width="0.5" stroke-opacity="0.6"/>
<circle cx="110.41" cy="502.04" r="3.75" fill="none" stroke="#ec8a8a" stroke-width="0.5" stroke-opacity="0.6"/>
<circle cx="105.31" cy="504.74" r="3.75" fill="none" stroke="#ec8a8a" stroke-width="0.5" stroke-opacity="0.6"/>
<circle cx="99.60" cy="502.40" r="3.75" fill="none" stroke="#ec8a8a" stroke-width="0.5" stroke-opacity="0.6"/>
<circle cx="105.10" cy="499.40" r="1.20" fill="#d65e66" fill-opacity="0.9"/>
<circle cx="99.80" cy="496.16" r="1.20" fill="#d65e66" fill-opacity="0.9"/>
<circle cx="105.41" cy="494.18" r="1.20" fill="#cfcfd3" fill-opacity="0.9"/>
<circle cx="110.61" cy="496.52" r="1.20" fill="#cfcfd3" fill-opacity="0.9"/>
<circle cx="110.81" cy="501.74" r="1.20" fill="#d65e66" fill-opacity="0.9"/>
<circle cx="105.71" cy="504.44" r="1.20" fill="#d65e66" fill-opacity="0.9"/>
<circle cx="100.00" cy="502.10" r="1.20" fill="#d65e66" fill-opacity="0.9"/>
<path d="M118.5 469.4 H121.1 V499.7 H118.5" fill="none" stroke="#333" stroke-width="1"/>
<line x1="121.1" y1="482.4" x2="130.7" y2="482.4" stroke="#333" stroke-width="1"/>
<text transform="translate(125.5 469.4)" font-size="7.5" fill="#b09ad0" text-anchor="start" dominant-baseline="central" textLength="32.8" lengthAdjust="spacingAndGlyphs" stroke="#b09ad0" stroke-width="0.06">Venetoclax</text>
<path d="M136.50,477.40 L141.50,480.80 L146.50,480.50 M136.50,477.40 L138.50,485.00 L137.30,489.30" stroke="#9366c6" stroke-width="0.8" fill="none"/>
<path d="M138.06,478.30 L136.50,479.20 L134.94,478.30 L134.94,476.50 L136.50,475.60 L138.06,476.50 Z" fill="#fff" stroke="#5f4f74" stroke-width="0.9"/>
<path d="M142.71,481.50 L141.50,482.20 L140.29,481.50 L140.29,480.10 L141.50,479.40 L142.71,480.10 Z" fill="#fff" stroke="#9366c6" stroke-width="0.85"/>
<path d="M147.89,481.30 L146.50,482.10 L145.11,481.30 L145.11,479.70 L146.50,478.90 L147.89,479.70 Z" fill="#fff" stroke="#9366c6" stroke-width="0.85"/>
<path d="M139.89,485.80 L138.50,486.60 L137.11,485.80 L137.11,484.20 L138.50,483.40 L139.89,484.20 Z" fill="#fff" stroke="#5f4f74" stroke-width="0.9"/>
<path d="M138.00,476.40 l1.6 -0.8 M135.00,478.40 l-0.6 1.6" stroke="#5f4f74" stroke-width="0.8" fill="none"/>
<line x1="149.7" y1="482.9" x2="158.5" y2="482.9" stroke="#222" stroke-width="1"/>
<path d="M161.5 482.9 L157.3 481 L157.3 484.8 Z" fill="#222"/>
<text transform="translate(180.2 456.6)" font-size="7.5" fill="#222" text-anchor="middle" dominant-baseline="central" textLength="39.5" lengthAdjust="spacingAndGlyphs" stroke="#222" stroke-width="0.06">Monitor BFP<tspan font-size="4.5" dy="-2.5">+</tspan></text>
<text transform="translate(180.8 464.9)" font-size="7.5" fill="#222" text-anchor="middle" dominant-baseline="central" textLength="25.7" lengthAdjust="spacingAndGlyphs" stroke="#222" stroke-width="0.06">by FACS</text>
<line x1="169.1" y1="470.8" x2="169.1" y2="495.6" stroke="#333" stroke-width="0.9"/>
<line x1="169.1" y1="495.4" x2="197.7" y2="495.4" stroke="#333" stroke-width="0.9"/>
<line x1="167.4" y1="495.4" x2="169.1" y2="495.4" stroke="#333" stroke-width="0.6"/>
<text transform="translate(166.3 495.4)" font-size="2.6" fill="#999" text-anchor="end" dominant-baseline="central" stroke="#999" stroke-width="0.22">0</text>
<line x1="167.4" y1="489.84999999999997" x2="169.1" y2="489.84999999999997" stroke="#333" stroke-width="0.6"/>
<text transform="translate(166.3 489.84999999999997)" font-size="2.6" fill="#999" text-anchor="end" dominant-baseline="central" stroke="#999" stroke-width="0.22">100</text>
<line x1="167.4" y1="484.29999999999995" x2="169.1" y2="484.29999999999995" stroke="#333" stroke-width="0.6"/>
<text transform="translate(166.3 484.29999999999995)" font-size="2.6" fill="#999" text-anchor="end" dominant-baseline="central" stroke="#999" stroke-width="0.22">200</text>
<line x1="167.4" y1="478.75" x2="169.1" y2="478.75" stroke="#333" stroke-width="0.6"/>
<text transform="translate(166.3 478.75)" font-size="2.6" fill="#999" text-anchor="end" dominant-baseline="central" stroke="#999" stroke-width="0.22">300</text>
<line x1="167.4" y1="473.2" x2="169.1" y2="473.2" stroke="#333" stroke-width="0.6"/>
<text transform="translate(166.3 473.2)" font-size="2.6" fill="#999" text-anchor="end" dominant-baseline="central" stroke="#999" stroke-width="0.22">400</text>
<line x1="169.6" y1="495.4" x2="169.6" y2="497" stroke="#333" stroke-width="0.6"/>
<text transform="translate(169.6 499)" font-size="2.4" fill="#999" text-anchor="middle" dominant-baseline="central" stroke="#999" stroke-width="0.22">0</text>
<line x1="175.2" y1="495.4" x2="175.2" y2="497" stroke="#333" stroke-width="0.6"/>
<text transform="translate(175.2 499)" font-size="2.4" fill="#999" text-anchor="middle" dominant-baseline="central" stroke="#999" stroke-width="0.22">200</text>
<line x1="180.79999999999998" y1="495.4" x2="180.79999999999998" y2="497" stroke="#333" stroke-width="0.6"/>
<text transform="translate(180.79999999999998 499)" font-size="2.4" fill="#999" text-anchor="middle" dominant-baseline="central" stroke="#999" stroke-width="0.22">400</text>
<line x1="186.39999999999998" y1="495.4" x2="186.39999999999998" y2="497" stroke="#333" stroke-width="0.6"/>
<text transform="translate(186.39999999999998 499)" font-size="2.4" fill="#999" text-anchor="middle" dominant-baseline="central" stroke="#999" stroke-width="0.22">600</text>
<line x1="192.0" y1="495.4" x2="192.0" y2="497" stroke="#333" stroke-width="0.6"/>
<text transform="translate(192.0 499)" font-size="2.4" fill="#999" text-anchor="middle" dominant-baseline="central" stroke="#999" stroke-width="0.22">800</text>
<line x1="197.6" y1="495.4" x2="197.6" y2="497" stroke="#333" stroke-width="0.6"/>
<text transform="translate(197.6 499)" font-size="2.4" fill="#999" text-anchor="middle" dominant-baseline="central" stroke="#999" stroke-width="0.22">1000</text>
<path d="M171.3,486.2 C171.2,483.6 175,483.3 178.2,483.6 C181.3,483.9 183.2,485.2 182.6,487.6 C182,490.2 179,493.6 176.4,493.6 C173.4,493.6 171.4,489.2 171.3,486.2 Z" fill="#1d1f6c"/>
<path d="M171.3,486.2 C171.2,483.6 175,483.3 178.2,483.6 C181.3,483.9 183.2,485.2 182.6,487.6 C182,490.2 179,493.6 176.4,493.6 C173.4,493.6 171.4,489.2 171.3,486.2 Z" fill="#f4f5dc" transform="translate(176.6 488.2) scale(0.72) translate(-176.6 -488.2)"/>
<path d="M171.3,486.2 C171.2,483.6 175,483.3 178.2,483.6 C181.3,483.9 183.2,485.2 182.6,487.6 C182,490.2 179,493.6 176.4,493.6 C173.4,493.6 171.4,489.2 171.3,486.2 Z" fill="#d9e26e" transform="translate(176.6 488.2) scale(0.56) translate(-176.6 -488.2)"/>
<ellipse cx="176.3" cy="488.1" rx="1.5" ry="1.2" fill="#45601a"/>
<path d="M184.4,482.2 C184,479.6 186.6,477.4 189.1,477.2 C191.6,477.1 192.1,479 191.1,481 C190.1,483 188.1,485 186.1,484.8 C184.9,484.6 184.5,483.6 184.4,482.2 Z" fill="#1f2b72"/>
<path d="M184.4,482.2 C184,479.6 186.6,477.4 189.1,477.2 C191.6,477.1 192.1,479 191.1,481 C190.1,483 188.1,485 186.1,484.8 C184.9,484.6 184.5,483.6 184.4,482.2 Z" fill="#8fd6ee" transform="translate(187.8 481) scale(0.6) translate(-187.8 -481)"/>
<ellipse cx="187.6" cy="481.2" rx="0.9" ry="0.7" fill="#5cb4d8"/>
<text transform="translate(222 421.5)" font-size="12" fill="#000" text-anchor="start" dominant-baseline="central" font-weight="bold">J</text>
<line x1="264.2" y1="432.4" x2="264.2" y2="505.3" stroke="#1e1e1e" stroke-width="1.3"/>
<line x1="263.6" y1="505.2" x2="379.5" y2="505.2" stroke="#1e1e1e" stroke-width="1.35"/>
<line x1="261.4" y1="505.1" x2="264.2" y2="505.1" stroke="#1e1e1e" stroke-width="0.9"/>
<text transform="translate(259 504.70000000000005) scale(0.88 1)" font-size="8" fill="#3a3a3a" text-anchor="end" dominant-baseline="central" stroke="#3a3a3a" stroke-width="0.22">0</text>
<line x1="261.4" y1="474.6" x2="264.2" y2="474.6" stroke="#1e1e1e" stroke-width="0.9"/>
<text transform="translate(259 474.20000000000005) scale(0.88 1)" font-size="8" fill="#3a3a3a" text-anchor="end" dominant-baseline="central" stroke="#3a3a3a" stroke-width="0.22">50</text>
<line x1="261.4" y1="444.1" x2="264.2" y2="444.1" stroke="#1e1e1e" stroke-width="0.9"/>
<text transform="translate(259 443.70000000000005) scale(0.88 1)" font-size="8" fill="#3a3a3a" text-anchor="end" dominant-baseline="central" stroke="#3a3a3a" stroke-width="0.22">100</text>
<line x1="264.2" y1="505" x2="264.2" y2="507.8" stroke="#1e1e1e" stroke-width="0.9"/>
<text transform="translate(264.2 514.4) scale(0.88 1)" font-size="8" fill="#3a3a3a" text-anchor="middle" dominant-baseline="central" stroke="#3a3a3a" stroke-width="0.22">1</text>
<line x1="292.4" y1="505" x2="292.4" y2="507.8" stroke="#1e1e1e" stroke-width="0.9"/>
<text transform="translate(292.4 514.4) scale(0.88 1)" font-size="8" fill="#3a3a3a" text-anchor="middle" dominant-baseline="central" stroke="#3a3a3a" stroke-width="0.22">2</text>
<line x1="320.6" y1="505" x2="320.6" y2="507.8" stroke="#1e1e1e" stroke-width="0.9"/>
<text transform="translate(320.6 514.4) scale(0.88 1)" font-size="8" fill="#3a3a3a" text-anchor="middle" dominant-baseline="central" stroke="#3a3a3a" stroke-width="0.22">3</text>
<line x1="348.8" y1="505" x2="348.8" y2="507.8" stroke="#1e1e1e" stroke-width="0.9"/>
<text transform="translate(348.8 514.4) scale(0.88 1)" font-size="8" fill="#3a3a3a" text-anchor="middle" dominant-baseline="central" stroke="#3a3a3a" stroke-width="0.22">4</text>
<line x1="377.2" y1="505" x2="377.2" y2="507.8" stroke="#1e1e1e" stroke-width="0.9"/>
<text transform="translate(377.2 514.4) scale(0.88 1)" font-size="8" fill="#3a3a3a" text-anchor="middle" dominant-baseline="central" stroke="#3a3a3a" stroke-width="0.22">5</text>
<text transform="translate(327.7 526)" font-size="9" fill="#333" text-anchor="middle" dominant-baseline="central" textLength="12" lengthAdjust="spacingAndGlyphs" stroke="#333" stroke-width="0.22">Day</text>
<text transform="translate(227.6 467.5) rotate(-90)" font-size="9.2" fill="#444" text-anchor="middle" dominant-baseline="central" textLength="33.5" lengthAdjust="spacingAndGlyphs" stroke="#444" stroke-width="0.22">%BFP cells</text>
<text transform="translate(238.5 468) rotate(-90)" font-size="9.2" fill="#444" text-anchor="middle" dominant-baseline="central" textLength="68" lengthAdjust="spacingAndGlyphs" stroke="#444" stroke-width="0.22">(normalized to day 1)</text>
<path d="M264.2,444.2 L292.4,453.5 L320.6,463 L348.8,474 L377.2,483" fill="none" stroke="#f7c6bd" stroke-width="1.1"/>
<circle cx="264.2" cy="444.2" r="1.4" fill="#f7c6bd"/>
<circle cx="292.4" cy="453.5" r="1.4" fill="#f7c6bd"/>
<circle cx="320.6" cy="463" r="1.4" fill="#f7c6bd"/>
<circle cx="348.8" cy="474" r="1.4" fill="#f7c6bd"/>
<circle cx="377.2" cy="483" r="1.4" fill="#f7c6bd"/>
<path d="M264.2,444.2 L292.4,453 L320.6,460.4 L348.8,475.8 L377.2,482" fill="none" stroke="#ee7b74" stroke-width="1.1"/>
<circle cx="264.2" cy="444.2" r="1.4" fill="#ee7b74"/>
<circle cx="292.4" cy="453" r="1.4" fill="#ee7b74"/>
<circle cx="320.6" cy="460.4" r="1.4" fill="#ee7b74"/>
<circle cx="348.8" cy="475.8" r="1.4" fill="#ee7b74"/>
<circle cx="377.2" cy="482" r="1.4" fill="#ee7b74"/>
<path d="M264.2,444.2 L292.4,452.7 L320.6,459.8 L348.8,469.8 L377.2,481" fill="none" stroke="#c81e26" stroke-width="1.1"/>
<circle cx="264.2" cy="444.2" r="1.4" fill="#c81e26"/>
<circle cx="292.4" cy="452.7" r="1.4" fill="#c81e26"/>
<circle cx="320.6" cy="459.8" r="1.4" fill="#c81e26"/>
<circle cx="348.8" cy="469.8" r="1.4" fill="#c81e26"/>
<circle cx="377.2" cy="481" r="1.4" fill="#c81e26"/>
<path d="M264.2,444.2 L292.4,450.8 L320.6,454.4 L348.8,456.3 L377.2,464.6" fill="none" stroke="#643622" stroke-width="1.1"/>
<circle cx="264.2" cy="444.2" r="1.4" fill="#643622"/>
<circle cx="292.4" cy="450.8" r="1.4" fill="#643622"/>
<circle cx="320.6" cy="454.4" r="1.4" fill="#643622"/>
<circle cx="348.8" cy="456.3" r="1.4" fill="#643622"/>
<circle cx="377.2" cy="464.6" r="1.4" fill="#643622"/>
<path d="M264.2,444.2 L292.4,445 L320.6,444.9 L348.8,444 L377.2,443.8" fill="none" stroke="#a9cdee" stroke-width="1.1"/>
<circle cx="264.2" cy="444.2" r="1.4" fill="#a9cdee"/>
<circle cx="292.4" cy="445" r="1.4" fill="#a9cdee"/>
<circle cx="320.6" cy="444.9" r="1.4" fill="#a9cdee"/>
<circle cx="348.8" cy="444" r="1.4" fill="#a9cdee"/>
<circle cx="377.2" cy="443.8" r="1.4" fill="#a9cdee"/>
<path d="M264.2,444.2 L292.4,445 L320.6,445.2 L348.8,448.3 L377.2,443.8" fill="none" stroke="#5fa3da" stroke-width="1.1"/>
<circle cx="264.2" cy="444.2" r="1.4" fill="#5fa3da"/>
<circle cx="292.4" cy="445" r="1.4" fill="#5fa3da"/>
<circle cx="320.6" cy="445.2" r="1.4" fill="#5fa3da"/>
<circle cx="348.8" cy="448.3" r="1.4" fill="#5fa3da"/>
<circle cx="377.2" cy="443.8" r="1.4" fill="#5fa3da"/>
<path d="M264.2,444.2 L292.4,445 L320.6,444.8 L348.8,443.5 L377.2,442.5" fill="none" stroke="#3b6cb0" stroke-width="1.1"/>
<circle cx="264.2" cy="444.2" r="1.4" fill="#3b6cb0"/>
<circle cx="292.4" cy="445" r="1.4" fill="#3b6cb0"/>
<circle cx="320.6" cy="444.8" r="1.4" fill="#3b6cb0"/>
<circle cx="348.8" cy="443.5" r="1.4" fill="#3b6cb0"/>
<circle cx="377.2" cy="442.5" r="1.4" fill="#3b6cb0"/>
<path d="M264.2,444.2 L292.4,445 L320.6,444.6 L348.8,443.0 L377.2,442" fill="none" stroke="#18325e" stroke-width="1.1"/>
<circle cx="264.2" cy="444.2" r="1.4" fill="#18325e"/>
<circle cx="292.4" cy="445" r="1.4" fill="#18325e"/>
<circle cx="320.6" cy="444.6" r="1.4" fill="#18325e"/>
<circle cx="348.8" cy="443.0" r="1.4" fill="#18325e"/>
<circle cx="377.2" cy="442" r="1.4" fill="#18325e"/>
<line x1="348.8" y1="445" x2="348.8" y2="450" stroke="#5fa3da" stroke-width="0.7"/>
<line x1="348.8" y1="474.5" x2="348.8" y2="477.5" stroke="#333" stroke-width="0.7"/>
<path d="M382.5 465.4 H384.5 V482.3 H382.5" fill="none" stroke="#444" stroke-width="0.8"/>
<text transform="translate(393.8 467.6)" font-size="7" fill="#d0202c" text-anchor="middle" dominant-baseline="central">***</text>
<text transform="translate(393.8 473.8)" font-size="7" fill="#e0505a" text-anchor="middle" dominant-baseline="central">***</text>
<text transform="translate(394.6 479.5)" font-size="7" fill="#f0a0a0" text-anchor="middle" dominant-baseline="central">****</text>
<line x1="406.5" y1="435.6" x2="412.7" y2="435.6" stroke="#18325e" stroke-width="1"/>
<circle cx="409.6" cy="435.6" r="1.5" fill="#18325e"/>
<text transform="translate(416.5 435.6)" font-size="7.5" fill="#3c3c3c" text-anchor="start" dominant-baseline="central" textLength="54" lengthAdjust="spacingAndGlyphs" stroke="#3c3c3c" stroke-width="0.03"><tspan font-style="italic">gControl</tspan> + DMSO</text>
<line x1="406.5" y1="444.5" x2="412.7" y2="444.5" stroke="#3b6cb0" stroke-width="1"/>
<circle cx="409.6" cy="444.5" r="1.5" fill="#3b6cb0"/>
<text transform="translate(416.5 444.5)" font-size="7.5" fill="#3c3c3c" text-anchor="start" dominant-baseline="central" textLength="70.4" lengthAdjust="spacingAndGlyphs" stroke="#3c3c3c" stroke-width="0.03"><tspan font-style="italic">gControl</tspan> + 100 nM Ven</text>
<line x1="406.5" y1="453.3" x2="412.7" y2="453.3" stroke="#5fa3da" stroke-width="1"/>
<circle cx="409.6" cy="453.3" r="1.5" fill="#5fa3da"/>
<text transform="translate(416.5 453.3)" font-size="7.5" fill="#3c3c3c" text-anchor="start" dominant-baseline="central" textLength="70.4" lengthAdjust="spacingAndGlyphs" stroke="#3c3c3c" stroke-width="0.03"><tspan font-style="italic">gControl</tspan> + 200 nM Ven</text>
<line x1="406.5" y1="462.2" x2="412.7" y2="462.2" stroke="#a9cdee" stroke-width="1"/>
<circle cx="409.6" cy="462.2" r="1.5" fill="#a9cdee"/>
<text transform="translate(416.5 462.2)" font-size="7.5" fill="#3c3c3c" text-anchor="start" dominant-baseline="central" textLength="70.4" lengthAdjust="spacingAndGlyphs" stroke="#3c3c3c" stroke-width="0.03"><tspan font-style="italic">gControl</tspan> + 500 nM Ven</text>
<line x1="406.5" y1="475.9" x2="412.7" y2="475.9" stroke="#5a2a14" stroke-width="1"/>
<circle cx="409.6" cy="475.9" r="1.5" fill="#5a2a14"/>
<text transform="translate(416.5 475.9)" font-size="7.5" fill="#3c3c3c" text-anchor="start" dominant-baseline="central" textLength="47.5" lengthAdjust="spacingAndGlyphs" stroke="#3c3c3c" stroke-width="0.03"><tspan font-style="italic">gTSR3</tspan> + DMSO</text>
<line x1="406.5" y1="484.7" x2="412.7" y2="484.7" stroke="#c81e26" stroke-width="1"/>
<circle cx="409.6" cy="484.7" r="1.5" fill="#c81e26"/>
<text transform="translate(416.5 484.7)" font-size="7.5" fill="#3c3c3c" text-anchor="start" dominant-baseline="central" textLength="63.7" lengthAdjust="spacingAndGlyphs" stroke="#3c3c3c" stroke-width="0.03"><tspan font-style="italic">gTSR3</tspan> + 100 nM Ven</text>
<line x1="406.5" y1="493.6" x2="412.7" y2="493.6" stroke="#ee7b74" stroke-width="1"/>
<circle cx="409.6" cy="493.6" r="1.5" fill="#ee7b74"/>
<text transform="translate(416.5 493.6)" font-size="7.5" fill="#3c3c3c" text-anchor="start" dominant-baseline="central" textLength="63.7" lengthAdjust="spacingAndGlyphs" stroke="#3c3c3c" stroke-width="0.03"><tspan font-style="italic">gTSR3</tspan> + 200 nM Ven</text>
<line x1="406.5" y1="502.4" x2="412.7" y2="502.4" stroke="#f7c6bd" stroke-width="1"/>
<circle cx="409.6" cy="502.4" r="1.5" fill="#f7c6bd"/>
<text transform="translate(416.5 502.4)" font-size="7.5" fill="#3c3c3c" text-anchor="start" dominant-baseline="central" textLength="63.7" lengthAdjust="spacingAndGlyphs" stroke="#3c3c3c" stroke-width="0.03"><tspan font-style="italic">gTSR3</tspan> + 500 nM Ven</text>
<rect x="0" y="0" width="520" height="539" fill="none" stroke="#4f4f4f" stroke-width="2.6"/>
</svg></body></html>
